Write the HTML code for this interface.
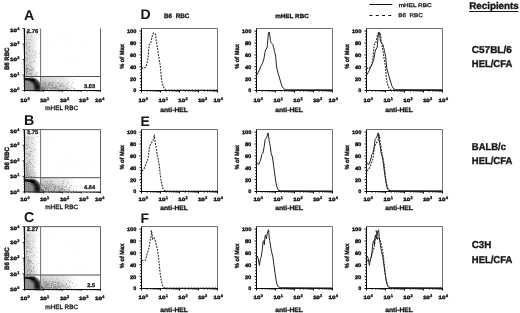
<!DOCTYPE html>
<html><head><meta charset="utf-8"><style>
html,body{margin:0;padding:0;background:#fff;width:520px;height:313px;overflow:hidden;}
svg{display:block;}
text{font-family:"Liberation Sans",sans-serif;text-rendering:geometricPrecision;}
</style></head><body>
<svg width="520" height="313" viewBox="0 0 520 313">
<defs><filter id="b1" x="-30%" y="-30%" width="160%" height="160%"><feGaussianBlur stdDeviation="0.7"/></filter><filter id="b3" x="-30%" y="-30%" width="160%" height="160%"><feGaussianBlur stdDeviation="0.9"/></filter><filter id="soft" x="0" y="0" width="100%" height="100%"><feGaussianBlur stdDeviation="0.3"/></filter><filter id="b2" x="-30%" y="-30%" width="160%" height="160%"><feGaussianBlur stdDeviation="1.6"/></filter><linearGradient id="gUL" x1="0" y1="0" x2="1" y2="0"><stop offset="0" stop-color="#000" stop-opacity="0.2"/><stop offset="0.5" stop-color="#000" stop-opacity="0.1"/><stop offset="0.85" stop-color="#000" stop-opacity="0.0"/></linearGradient><linearGradient id="gLR" x1="0" y1="0" x2="1" y2="0"><stop offset="0" stop-color="#000" stop-opacity="0.17"/><stop offset="0.4" stop-color="#000" stop-opacity="0.09"/><stop offset="0.58" stop-color="#000" stop-opacity="0.0"/></linearGradient></defs>
<rect width="520" height="313" fill="#fff"/>
<g filter="url(#soft)">
<text x="24.1" y="19.5" font-size="14.2" font-weight="bold" text-anchor="start" fill="#151515" >A</text>
<rect x="24.5" y="28.5" width="16.1" height="48.0" fill="url(#gUL)"/>
<path d="M24.5,76.5 L24.5,62.5 Q30,66.5 36,73.5 L39,76.5 Z" fill="#000" fill-opacity="0.10" filter="url(#b2)"/>
<rect x="40.6" y="76.5" width="59.9" height="14.0" fill="url(#gLR)"/>
<path d="M40.6,90.5 L40.6,79.5 Q50,80.5 62,84.5 L74,90.5 Z" fill="#000" fill-opacity="0.10" filter="url(#b2)"/>
<path d="M24.5,77.5 L33,77.5 Q38,78.5 40.5,83.5 L40.5,90.5 L24.5,90.5 Z" fill="#000" fill-opacity="0.45" filter="url(#b1)"/>
<path d="M24.5,79.1 L30,79.5 Q33,79.8 35,80.7" fill="none" stroke="#151515" stroke-width="2.5" filter="url(#b1)"/>
<path d="M30,78.5 L34,78.9 Q38.6,81.5 40.2,86.5 L40.4,90.5 L34.6,90.5 L34.2,85.0 Q33,82.3 30,81.3 Z" fill="#000" fill-opacity="0.85" filter="url(#b3)"/>
<path d="M24.5,89.3 L40,89.3" stroke="#000" stroke-opacity="0.2" stroke-width="2" filter="url(#b1)"/>
<path d="M40.5,87.0 L45,89.5 L40.5,90.0 Z" fill="#000" fill-opacity="0.35" filter="url(#b1)"/>
<line x1="100.5" y1="28.5" x2="100.5" y2="90.5" stroke="#666" stroke-width="1" />
<line x1="24.5" y1="28.5" x2="24.5" y2="90.5" stroke="#111" stroke-width="1" />
<line x1="24.0" y1="90.5" x2="101.0" y2="90.5" stroke="#111" stroke-width="1" />
<path d="M22.5 90.5H24.5M24.5 90.5v1.4M30.2 90.5v0.9M23.6 85.8H24.5M33.6 90.5v0.9M23.6 83.1H24.5M35.9 90.5v0.9M23.6 81.2H24.5M37.8 90.5v0.9M23.6 79.7H24.5M39.3 90.5v0.9M23.6 78.4H24.5M40.6 90.5v0.9M23.6 77.4H24.5M41.7 90.5v0.9M23.6 76.5H24.5M42.6 90.5v0.9M23.6 75.7H24.5M22.5 75.0H24.5M43.5 90.5v1.4M49.2 90.5v0.9M23.6 70.3H24.5M52.6 90.5v0.9M23.6 67.6H24.5M54.9 90.5v0.9M23.6 65.7H24.5M56.8 90.5v0.9M23.6 64.2H24.5M58.3 90.5v0.9M23.6 62.9H24.5M59.6 90.5v0.9M23.6 61.9H24.5M60.7 90.5v0.9M23.6 61.0H24.5M61.6 90.5v0.9M23.6 60.2H24.5M22.5 59.5H24.5M62.5 90.5v1.4M68.2 90.5v0.9M23.6 54.8H24.5M71.6 90.5v0.9M23.6 52.1H24.5M73.9 90.5v0.9M23.6 50.2H24.5M75.8 90.5v0.9M23.6 48.7H24.5M77.3 90.5v0.9M23.6 47.4H24.5M78.6 90.5v0.9M23.6 46.4H24.5M79.7 90.5v0.9M23.6 45.5H24.5M80.6 90.5v0.9M23.6 44.7H24.5M22.5 44.0H24.5M81.5 90.5v1.4M87.2 90.5v0.9M23.6 39.3H24.5M90.6 90.5v0.9M23.6 36.6H24.5M92.9 90.5v0.9M23.6 34.7H24.5M94.8 90.5v0.9M23.6 33.2H24.5M96.3 90.5v0.9M23.6 31.9H24.5M97.6 90.5v0.9M23.6 30.9H24.5M98.7 90.5v0.9M23.6 30.0H24.5M99.6 90.5v0.9M23.6 29.2H24.5M22.5 28.5H24.5M100.5 90.5v1.4" stroke="#111" stroke-width="0.8" fill="none"/>
<line x1="40.6" y1="28.5" x2="40.6" y2="90.5" stroke="#707070" stroke-width="1" />
<line x1="24.5" y1="76.5" x2="100.5" y2="76.5" stroke="#505050" stroke-width="1" />
<rect x="25.5" y="29.0" width="14" height="5.5" fill="#fff" fill-opacity="0.85"/>
<text x="26.8" y="33.3" font-size="5.6" font-weight="bold" text-anchor="start" textLength="11.4" lengthAdjust="spacingAndGlyphs" fill="#151515" stroke="#151515" stroke-width="0.3" >2.76</text>
<text x="95.0" y="87.5" font-size="5.6" font-weight="bold" text-anchor="end" fill="#151515" stroke="#151515" stroke-width="0.3" >3.03</text>
<text x="10.0" y="92.3" font-size="4.7" font-weight="bold" textLength="6.9" lengthAdjust="spacingAndGlyphs" fill="#151515" stroke="#151515" stroke-width="0.4">10</text>
<text x="17.2" y="90.3" font-size="3.9" font-weight="bold" fill="#151515" stroke="#151515" stroke-width="0.3">0</text>
<text x="20.2" y="102.2" font-size="4.7" font-weight="bold" textLength="6.9" lengthAdjust="spacingAndGlyphs" fill="#151515" stroke="#151515" stroke-width="0.4">10</text>
<text x="27.4" y="100.2" font-size="3.9" font-weight="bold" fill="#151515" stroke="#151515" stroke-width="0.3">0</text>
<text x="10.0" y="76.8" font-size="4.7" font-weight="bold" textLength="6.9" lengthAdjust="spacingAndGlyphs" fill="#151515" stroke="#151515" stroke-width="0.4">10</text>
<text x="17.2" y="74.8" font-size="3.9" font-weight="bold" fill="#151515" stroke="#151515" stroke-width="0.3">1</text>
<text x="39.9" y="102.2" font-size="4.7" font-weight="bold" textLength="6.9" lengthAdjust="spacingAndGlyphs" fill="#151515" stroke="#151515" stroke-width="0.4">10</text>
<text x="47.1" y="100.2" font-size="3.9" font-weight="bold" fill="#151515" stroke="#151515" stroke-width="0.3">1</text>
<text x="10.0" y="61.3" font-size="4.7" font-weight="bold" textLength="6.9" lengthAdjust="spacingAndGlyphs" fill="#151515" stroke="#151515" stroke-width="0.4">10</text>
<text x="17.2" y="59.3" font-size="3.9" font-weight="bold" fill="#151515" stroke="#151515" stroke-width="0.3">2</text>
<text x="59.9" y="102.2" font-size="4.7" font-weight="bold" textLength="6.9" lengthAdjust="spacingAndGlyphs" fill="#151515" stroke="#151515" stroke-width="0.4">10</text>
<text x="67.1" y="100.2" font-size="3.9" font-weight="bold" fill="#151515" stroke="#151515" stroke-width="0.3">2</text>
<text x="10.0" y="45.8" font-size="4.7" font-weight="bold" textLength="6.9" lengthAdjust="spacingAndGlyphs" fill="#151515" stroke="#151515" stroke-width="0.4">10</text>
<text x="17.2" y="43.8" font-size="3.9" font-weight="bold" fill="#151515" stroke="#151515" stroke-width="0.3">3</text>
<text x="79.1" y="102.2" font-size="4.7" font-weight="bold" textLength="6.9" lengthAdjust="spacingAndGlyphs" fill="#151515" stroke="#151515" stroke-width="0.4">10</text>
<text x="86.3" y="100.2" font-size="3.9" font-weight="bold" fill="#151515" stroke="#151515" stroke-width="0.3">3</text>
<text x="10.0" y="31.7" font-size="4.7" font-weight="bold" textLength="6.9" lengthAdjust="spacingAndGlyphs" fill="#151515" stroke="#151515" stroke-width="0.4">10</text>
<text x="17.2" y="29.7" font-size="3.9" font-weight="bold" fill="#151515" stroke="#151515" stroke-width="0.3">4</text>
<text x="95.0" y="102.2" font-size="4.7" font-weight="bold" textLength="6.9" lengthAdjust="spacingAndGlyphs" fill="#151515" stroke="#151515" stroke-width="0.4">10</text>
<text x="102.2" y="100.2" font-size="3.9" font-weight="bold" fill="#151515" stroke="#151515" stroke-width="0.3">4</text>
<text x="61.7" y="110.1" font-size="6.2" text-anchor="middle" textLength="32.8" lengthAdjust="spacingAndGlyphs" fill="#151515" stroke="#151515" stroke-width="0.3" >mHEL RBC</text>
<text x="0" y="0" font-size="6.4" font-weight="bold" text-anchor="middle" textLength="22.6" lengthAdjust="spacingAndGlyphs" fill="#151515" stroke="#151515" stroke-width="0.4" transform="translate(9.0,58.8) rotate(-90)">B6 RBC</text>
<text x="24.1" y="125.3" font-size="14.2" font-weight="bold" text-anchor="start" fill="#151515" >B</text>
<rect x="24.5" y="129.6" width="16.1" height="48.099999999999994" fill="url(#gUL)"/>
<path d="M24.5,177.7 L24.5,163.7 Q30,167.7 36,174.7 L39,177.7 Z" fill="#000" fill-opacity="0.10" filter="url(#b2)"/>
<rect x="40.6" y="177.7" width="59.9" height="14.300000000000011" fill="url(#gLR)"/>
<path d="M40.6,192.0 L40.6,180.7 Q50,181.7 62,185.7 L74,192.0 Z" fill="#000" fill-opacity="0.10" filter="url(#b2)"/>
<path d="M24.5,178.7 L33,178.7 Q38,179.7 40.5,184.7 L40.5,192.0 L24.5,192.0 Z" fill="#000" fill-opacity="0.45" filter="url(#b1)"/>
<path d="M24.5,180.29999999999998 L30,180.7 Q33,181.0 35,181.89999999999998" fill="none" stroke="#151515" stroke-width="2.5" filter="url(#b1)"/>
<path d="M30,179.7 L34,180.1 Q38.6,182.7 40.2,187.7 L40.4,192.0 L34.6,192.0 L34.2,186.2 Q33,183.5 30,182.5 Z" fill="#000" fill-opacity="0.85" filter="url(#b3)"/>
<path d="M24.5,190.8 L40,190.8" stroke="#000" stroke-opacity="0.2" stroke-width="2" filter="url(#b1)"/>
<path d="M40.5,188.5 L45,191.0 L40.5,191.5 Z" fill="#000" fill-opacity="0.35" filter="url(#b1)"/>
<line x1="24.5" y1="129.6" x2="100.5" y2="129.6" stroke="#666" stroke-width="1" />
<line x1="100.5" y1="129.6" x2="100.5" y2="192.0" stroke="#666" stroke-width="1" />
<line x1="24.5" y1="129.6" x2="24.5" y2="192.0" stroke="#111" stroke-width="1" />
<line x1="24.0" y1="192.0" x2="101.0" y2="192.0" stroke="#111" stroke-width="1" />
<path d="M22.5 192.0H24.5M24.5 192.0v1.4M30.2 192.0v0.9M23.6 187.3H24.5M33.6 192.0v0.9M23.6 184.6H24.5M35.9 192.0v0.9M23.6 182.6H24.5M37.8 192.0v0.9M23.6 181.1H24.5M39.3 192.0v0.9M23.6 179.9H24.5M40.6 192.0v0.9M23.6 178.8H24.5M41.7 192.0v0.9M23.6 177.9H24.5M42.6 192.0v0.9M23.6 177.1H24.5M22.5 176.4H24.5M43.5 192.0v1.4M49.2 192.0v0.9M23.6 171.7H24.5M52.6 192.0v0.9M23.6 169.0H24.5M54.9 192.0v0.9M23.6 167.0H24.5M56.8 192.0v0.9M23.6 165.5H24.5M58.3 192.0v0.9M23.6 164.3H24.5M59.6 192.0v0.9M23.6 163.2H24.5M60.7 192.0v0.9M23.6 162.3H24.5M61.6 192.0v0.9M23.6 161.5H24.5M22.5 160.8H24.5M62.5 192.0v1.4M68.2 192.0v0.9M23.6 156.1H24.5M71.6 192.0v0.9M23.6 153.4H24.5M73.9 192.0v0.9M23.6 151.4H24.5M75.8 192.0v0.9M23.6 149.9H24.5M77.3 192.0v0.9M23.6 148.7H24.5M78.6 192.0v0.9M23.6 147.6H24.5M79.7 192.0v0.9M23.6 146.7H24.5M80.6 192.0v0.9M23.6 145.9H24.5M22.5 145.2H24.5M81.5 192.0v1.4M87.2 192.0v0.9M23.6 140.5H24.5M90.6 192.0v0.9M23.6 137.8H24.5M92.9 192.0v0.9M23.6 135.8H24.5M94.8 192.0v0.9M23.6 134.3H24.5M96.3 192.0v0.9M23.6 133.1H24.5M97.6 192.0v0.9M23.6 132.0H24.5M98.7 192.0v0.9M23.6 131.1H24.5M99.6 192.0v0.9M23.6 130.3H24.5M22.5 129.6H24.5M100.5 192.0v1.4" stroke="#111" stroke-width="0.8" fill="none"/>
<line x1="40.6" y1="129.6" x2="40.6" y2="192.0" stroke="#707070" stroke-width="1" />
<line x1="24.5" y1="177.7" x2="100.5" y2="177.7" stroke="#505050" stroke-width="1" />
<rect x="25.5" y="130.1" width="14" height="5.5" fill="#fff" fill-opacity="0.85"/>
<text x="26.8" y="134.4" font-size="5.6" font-weight="bold" text-anchor="start" textLength="11.4" lengthAdjust="spacingAndGlyphs" fill="#151515" stroke="#151515" stroke-width="0.3" >3.75</text>
<text x="95.0" y="189.0" font-size="5.6" font-weight="bold" text-anchor="end" fill="#151515" stroke="#151515" stroke-width="0.3" >4.64</text>
<text x="10.0" y="193.8" font-size="4.7" font-weight="bold" textLength="6.9" lengthAdjust="spacingAndGlyphs" fill="#151515" stroke="#151515" stroke-width="0.4">10</text>
<text x="17.2" y="191.8" font-size="3.9" font-weight="bold" fill="#151515" stroke="#151515" stroke-width="0.3">0</text>
<text x="20.2" y="200.7" font-size="4.7" font-weight="bold" textLength="6.9" lengthAdjust="spacingAndGlyphs" fill="#151515" stroke="#151515" stroke-width="0.4">10</text>
<text x="27.4" y="198.7" font-size="3.9" font-weight="bold" fill="#151515" stroke="#151515" stroke-width="0.3">0</text>
<text x="10.0" y="178.2" font-size="4.7" font-weight="bold" textLength="6.9" lengthAdjust="spacingAndGlyphs" fill="#151515" stroke="#151515" stroke-width="0.4">10</text>
<text x="17.2" y="176.2" font-size="3.9" font-weight="bold" fill="#151515" stroke="#151515" stroke-width="0.3">1</text>
<text x="39.9" y="200.7" font-size="4.7" font-weight="bold" textLength="6.9" lengthAdjust="spacingAndGlyphs" fill="#151515" stroke="#151515" stroke-width="0.4">10</text>
<text x="47.1" y="198.7" font-size="3.9" font-weight="bold" fill="#151515" stroke="#151515" stroke-width="0.3">1</text>
<text x="10.0" y="162.6" font-size="4.7" font-weight="bold" textLength="6.9" lengthAdjust="spacingAndGlyphs" fill="#151515" stroke="#151515" stroke-width="0.4">10</text>
<text x="17.2" y="160.6" font-size="3.9" font-weight="bold" fill="#151515" stroke="#151515" stroke-width="0.3">2</text>
<text x="59.9" y="200.7" font-size="4.7" font-weight="bold" textLength="6.9" lengthAdjust="spacingAndGlyphs" fill="#151515" stroke="#151515" stroke-width="0.4">10</text>
<text x="67.1" y="198.7" font-size="3.9" font-weight="bold" fill="#151515" stroke="#151515" stroke-width="0.3">2</text>
<text x="10.0" y="147.0" font-size="4.7" font-weight="bold" textLength="6.9" lengthAdjust="spacingAndGlyphs" fill="#151515" stroke="#151515" stroke-width="0.4">10</text>
<text x="17.2" y="145.0" font-size="3.9" font-weight="bold" fill="#151515" stroke="#151515" stroke-width="0.3">3</text>
<text x="79.1" y="200.7" font-size="4.7" font-weight="bold" textLength="6.9" lengthAdjust="spacingAndGlyphs" fill="#151515" stroke="#151515" stroke-width="0.4">10</text>
<text x="86.3" y="198.7" font-size="3.9" font-weight="bold" fill="#151515" stroke="#151515" stroke-width="0.3">3</text>
<text x="10.0" y="132.8" font-size="4.7" font-weight="bold" textLength="6.9" lengthAdjust="spacingAndGlyphs" fill="#151515" stroke="#151515" stroke-width="0.4">10</text>
<text x="17.2" y="130.8" font-size="3.9" font-weight="bold" fill="#151515" stroke="#151515" stroke-width="0.3">4</text>
<text x="95.0" y="200.7" font-size="4.7" font-weight="bold" textLength="6.9" lengthAdjust="spacingAndGlyphs" fill="#151515" stroke="#151515" stroke-width="0.4">10</text>
<text x="102.2" y="198.7" font-size="3.9" font-weight="bold" fill="#151515" stroke="#151515" stroke-width="0.3">4</text>
<text x="61.7" y="208.8" font-size="6.2" text-anchor="middle" textLength="32.8" lengthAdjust="spacingAndGlyphs" fill="#151515" stroke="#151515" stroke-width="0.3" >mHEL RBC</text>
<text x="0" y="0" font-size="6.4" font-weight="bold" text-anchor="middle" textLength="22.6" lengthAdjust="spacingAndGlyphs" fill="#151515" stroke="#151515" stroke-width="0.4" transform="translate(9.0,158.5) rotate(-90)">B6 RBC</text>
<text x="24.1" y="222.4" font-size="14.2" font-weight="bold" text-anchor="start" fill="#151515" >C</text>
<rect x="24.5" y="226.6" width="16.1" height="48.400000000000006" fill="url(#gUL)"/>
<path d="M24.5,275.0 L24.5,261.0 Q30,265.0 36,272.0 L39,275.0 Z" fill="#000" fill-opacity="0.10" filter="url(#b2)"/>
<rect x="40.6" y="275.0" width="59.9" height="14.5" fill="url(#gLR)"/>
<path d="M40.6,289.5 L40.6,278.0 Q50,279.0 62,283.0 L74,289.5 Z" fill="#000" fill-opacity="0.10" filter="url(#b2)"/>
<path d="M24.5,276.0 L33,276.0 Q38,277.0 40.5,282.0 L40.5,289.5 L24.5,289.5 Z" fill="#000" fill-opacity="0.45" filter="url(#b1)"/>
<path d="M24.5,277.6 L30,278.0 Q33,278.3 35,279.2" fill="none" stroke="#151515" stroke-width="2.5" filter="url(#b1)"/>
<path d="M30,277.0 L34,277.4 Q38.6,280.0 40.2,285.0 L40.4,289.5 L34.6,289.5 L34.2,283.5 Q33,280.8 30,279.8 Z" fill="#000" fill-opacity="0.85" filter="url(#b3)"/>
<path d="M24.5,288.3 L40,288.3" stroke="#000" stroke-opacity="0.2" stroke-width="2" filter="url(#b1)"/>
<path d="M40.5,286.0 L45,288.5 L40.5,289.0 Z" fill="#000" fill-opacity="0.35" filter="url(#b1)"/>
<line x1="24.5" y1="226.6" x2="100.5" y2="226.6" stroke="#666" stroke-width="1" />
<line x1="100.5" y1="226.6" x2="100.5" y2="289.5" stroke="#666" stroke-width="1" />
<line x1="24.5" y1="226.6" x2="24.5" y2="289.5" stroke="#111" stroke-width="1" />
<line x1="24.0" y1="289.5" x2="101.0" y2="289.5" stroke="#111" stroke-width="1" />
<path d="M22.5 289.5H24.5M24.5 289.5v1.4M30.2 289.5v0.9M23.6 284.8H24.5M33.6 289.5v0.9M23.6 282.0H24.5M35.9 289.5v0.9M23.6 280.0H24.5M37.8 289.5v0.9M23.6 278.5H24.5M39.3 289.5v0.9M23.6 277.3H24.5M40.6 289.5v0.9M23.6 276.2H24.5M41.7 289.5v0.9M23.6 275.3H24.5M42.6 289.5v0.9M23.6 274.5H24.5M22.5 273.8H24.5M43.5 289.5v1.4M49.2 289.5v0.9M23.6 269.0H24.5M52.6 289.5v0.9M23.6 266.3H24.5M54.9 289.5v0.9M23.6 264.3H24.5M56.8 289.5v0.9M23.6 262.8H24.5M58.3 289.5v0.9M23.6 261.5H24.5M59.6 289.5v0.9M23.6 260.5H24.5M60.7 289.5v0.9M23.6 259.6H24.5M61.6 289.5v0.9M23.6 258.8H24.5M22.5 258.1H24.5M62.5 289.5v1.4M68.2 289.5v0.9M23.6 253.3H24.5M71.6 289.5v0.9M23.6 250.5H24.5M73.9 289.5v0.9M23.6 248.6H24.5M75.8 289.5v0.9M23.6 247.1H24.5M77.3 289.5v0.9M23.6 245.8H24.5M78.6 289.5v0.9M23.6 244.8H24.5M79.7 289.5v0.9M23.6 243.8H24.5M80.6 289.5v0.9M23.6 243.0H24.5M22.5 242.3H24.5M81.5 289.5v1.4M87.2 289.5v0.9M23.6 237.6H24.5M90.6 289.5v0.9M23.6 234.8H24.5M92.9 289.5v0.9M23.6 232.9H24.5M94.8 289.5v0.9M23.6 231.3H24.5M96.3 289.5v0.9M23.6 230.1H24.5M97.6 289.5v0.9M23.6 229.0H24.5M98.7 289.5v0.9M23.6 228.1H24.5M99.6 289.5v0.9M23.6 227.3H24.5M22.5 226.6H24.5M100.5 289.5v1.4" stroke="#111" stroke-width="0.8" fill="none"/>
<line x1="40.6" y1="226.6" x2="40.6" y2="289.5" stroke="#707070" stroke-width="1" />
<line x1="24.5" y1="275.0" x2="100.5" y2="275.0" stroke="#505050" stroke-width="1" />
<rect x="25.5" y="227.1" width="14" height="5.5" fill="#fff" fill-opacity="0.85"/>
<text x="26.8" y="231.4" font-size="5.6" font-weight="bold" text-anchor="start" textLength="11.4" lengthAdjust="spacingAndGlyphs" fill="#151515" stroke="#151515" stroke-width="0.3" >2.27</text>
<text x="95.0" y="286.5" font-size="5.6" font-weight="bold" text-anchor="end" fill="#151515" stroke="#151515" stroke-width="0.3" >2.5</text>
<text x="10.0" y="291.3" font-size="4.7" font-weight="bold" textLength="6.9" lengthAdjust="spacingAndGlyphs" fill="#151515" stroke="#151515" stroke-width="0.4">10</text>
<text x="17.2" y="289.3" font-size="3.9" font-weight="bold" fill="#151515" stroke="#151515" stroke-width="0.3">0</text>
<text x="20.2" y="299.5" font-size="4.7" font-weight="bold" textLength="6.9" lengthAdjust="spacingAndGlyphs" fill="#151515" stroke="#151515" stroke-width="0.4">10</text>
<text x="27.4" y="297.5" font-size="3.9" font-weight="bold" fill="#151515" stroke="#151515" stroke-width="0.3">0</text>
<text x="10.0" y="275.6" font-size="4.7" font-weight="bold" textLength="6.9" lengthAdjust="spacingAndGlyphs" fill="#151515" stroke="#151515" stroke-width="0.4">10</text>
<text x="17.2" y="273.6" font-size="3.9" font-weight="bold" fill="#151515" stroke="#151515" stroke-width="0.3">1</text>
<text x="39.9" y="299.5" font-size="4.7" font-weight="bold" textLength="6.9" lengthAdjust="spacingAndGlyphs" fill="#151515" stroke="#151515" stroke-width="0.4">10</text>
<text x="47.1" y="297.5" font-size="3.9" font-weight="bold" fill="#151515" stroke="#151515" stroke-width="0.3">1</text>
<text x="10.0" y="259.9" font-size="4.7" font-weight="bold" textLength="6.9" lengthAdjust="spacingAndGlyphs" fill="#151515" stroke="#151515" stroke-width="0.4">10</text>
<text x="17.2" y="257.9" font-size="3.9" font-weight="bold" fill="#151515" stroke="#151515" stroke-width="0.3">2</text>
<text x="59.9" y="299.5" font-size="4.7" font-weight="bold" textLength="6.9" lengthAdjust="spacingAndGlyphs" fill="#151515" stroke="#151515" stroke-width="0.4">10</text>
<text x="67.1" y="297.5" font-size="3.9" font-weight="bold" fill="#151515" stroke="#151515" stroke-width="0.3">2</text>
<text x="10.0" y="244.1" font-size="4.7" font-weight="bold" textLength="6.9" lengthAdjust="spacingAndGlyphs" fill="#151515" stroke="#151515" stroke-width="0.4">10</text>
<text x="17.2" y="242.1" font-size="3.9" font-weight="bold" fill="#151515" stroke="#151515" stroke-width="0.3">3</text>
<text x="79.1" y="299.5" font-size="4.7" font-weight="bold" textLength="6.9" lengthAdjust="spacingAndGlyphs" fill="#151515" stroke="#151515" stroke-width="0.4">10</text>
<text x="86.3" y="297.5" font-size="3.9" font-weight="bold" fill="#151515" stroke="#151515" stroke-width="0.3">3</text>
<text x="10.0" y="229.8" font-size="4.7" font-weight="bold" textLength="6.9" lengthAdjust="spacingAndGlyphs" fill="#151515" stroke="#151515" stroke-width="0.4">10</text>
<text x="17.2" y="227.8" font-size="3.9" font-weight="bold" fill="#151515" stroke="#151515" stroke-width="0.3">4</text>
<text x="95.0" y="299.5" font-size="4.7" font-weight="bold" textLength="6.9" lengthAdjust="spacingAndGlyphs" fill="#151515" stroke="#151515" stroke-width="0.4">10</text>
<text x="102.2" y="297.5" font-size="3.9" font-weight="bold" fill="#151515" stroke="#151515" stroke-width="0.3">4</text>
<text x="61.7" y="308.8" font-size="6.2" text-anchor="middle" textLength="32.8" lengthAdjust="spacingAndGlyphs" fill="#151515" stroke="#151515" stroke-width="0.3" >mHEL RBC</text>
<text x="0" y="0" font-size="6.4" font-weight="bold" text-anchor="middle" textLength="22.6" lengthAdjust="spacingAndGlyphs" fill="#151515" stroke="#151515" stroke-width="0.4" transform="translate(9.0,258.7) rotate(-90)">B6 RBC</text>
<path d="M27 58h1v1h-1zM27 47h1v1h-1zM32 48h1v1h-1zM27 47h1v1h-1zM28 68h1v1h-1zM29 56h1v1h-1zM29 65h1v1h-1zM32 55h1v1h-1zM29 62h1v1h-1zM25 69h1v1h-1zM31 34h1v1h-1zM36 72h1v1h-1zM31 56h1v1h-1zM25 59h1v1h-1zM35 76h1v1h-1zM33 46h1v1h-1zM31 75h1v1h-1zM26 69h1v1h-1zM29 57h1v1h-1zM27 71h1v1h-1zM25 36h1v1h-1zM30 60h1v1h-1zM33 66h1v1h-1zM31 52h1v1h-1zM27 70h1v1h-1zM26 54h1v1h-1zM26 44h1v1h-1zM31 40h1v1h-1zM26 65h1v1h-1zM31 36h1v1h-1zM29 42h1v1h-1zM26 74h1v1h-1zM31 59h1v1h-1zM31 65h1v1h-1zM26 57h1v1h-1zM26 68h1v1h-1zM27 48h1v1h-1zM28 69h1v1h-1zM26 57h1v1h-1zM29 65h1v1h-1zM30 58h1v1h-1zM25 31h1v1h-1zM26 57h1v1h-1zM25 53h1v1h-1zM29 47h1v1h-1zM32 70h1v1h-1zM27 67h1v1h-1zM27 60h1v1h-1zM27 30h1v1h-1zM27 74h1v1h-1zM27 52h1v1h-1zM26 43h1v1h-1zM28 51h1v1h-1zM26 76h1v1h-1zM35 54h1v1h-1zM29 70h1v1h-1zM27 31h1v1h-1zM26 75h1v1h-1zM26 48h1v1h-1zM29 69h1v1h-1zM29 69h1v1h-1zM27 68h1v1h-1zM27 67h1v1h-1zM36 53h1v1h-1zM30 70h1v1h-1zM33 70h1v1h-1zM25 57h1v1h-1zM26 72h1v1h-1zM26 58h1v1h-1zM29 49h1v1h-1zM35 51h1v1h-1zM25 68h1v1h-1zM31 33h1v1h-1zM30 61h1v1h-1zM29 58h1v1h-1zM27 44h1v1h-1zM31 69h1v1h-1zM26 33h1v1h-1zM27 61h1v1h-1zM27 51h1v1h-1zM31 74h1v1h-1zM32 62h1v1h-1zM34 53h1v1h-1zM33 50h1v1h-1zM56 88h1v1h-1zM43 85h1v1h-1zM43 82h1v1h-1zM46 87h1v1h-1zM55 85h1v1h-1zM61 82h1v1h-1zM63 89h1v1h-1zM63 84h1v1h-1zM61 84h1v1h-1zM47 89h1v1h-1zM44 86h1v1h-1zM46 88h1v1h-1zM43 85h1v1h-1zM63 88h1v1h-1zM55 88h1v1h-1zM67 86h1v1h-1zM48 86h1v1h-1zM50 87h1v1h-1zM67 86h1v1h-1zM50 87h1v1h-1zM52 86h1v1h-1zM44 82h1v1h-1zM66 88h1v1h-1zM65 88h1v1h-1zM52 84h1v1h-1zM47 85h1v1h-1zM65 86h1v1h-1zM48 88h1v1h-1zM52 88h1v1h-1zM57 88h1v1h-1zM55 84h1v1h-1zM59 83h1v1h-1zM72 82h1v1h-1zM66 88h1v1h-1zM56 87h1v1h-1zM53 88h1v1h-1zM58 83h1v1h-1zM64 86h1v1h-1zM71 85h1v1h-1zM51 88h1v1h-1zM54 87h1v1h-1zM52 89h1v1h-1zM42 88h1v1h-1zM48 88h1v1h-1zM42 87h1v1h-1zM46 89h1v1h-1zM71 89h1v1h-1zM51 89h1v1h-1zM65 89h1v1h-1zM57 84h1v1h-1zM53 84h1v1h-1zM57 88h1v1h-1zM60 83h1v1h-1zM42 84h1v1h-1zM42 86h1v1h-1zM48 88h1v1h-1zM56 85h1v1h-1zM47 88h1v1h-1zM52 85h1v1h-1zM63 79h1v1h-1zM63 82h1v1h-1zM55 87h1v1h-1zM61 85h1v1h-1zM46 87h1v1h-1zM46 89h1v1h-1zM59 87h1v1h-1zM43 89h1v1h-1zM46 88h1v1h-1zM46 87h1v1h-1zM74 89h1v1h-1zM56 87h1v1h-1zM60 85h1v1h-1zM63 85h1v1h-1zM56 87h1v1h-1zM58 89h1v1h-1zM78 89h1v1h-1zM45 85h1v1h-1zM68 88h1v1h-1zM52 89h1v1h-1zM63 83h1v1h-1zM53 84h1v1h-1zM43 84h1v1h-1zM41 86h1v1h-1zM54 88h1v1h-1zM67 88h1v1h-1zM59 85h1v1h-1zM59 87h1v1h-1zM70 89h1v1h-1zM43 86h1v1h-1zM52 88h1v1h-1zM47 87h1v1h-1zM47 88h1v1h-1zM64 88h1v1h-1zM42 85h1v1h-1zM45 83h1v1h-1zM41 86h1v1h-1zM54 81h1v1h-1zM75 89h1v1h-1zM49 85h1v1h-1zM60 89h1v1h-1zM64 85h1v1h-1zM53 88h1v1h-1zM42 86h1v1h-1zM70 85h1v1h-1zM44 89h1v1h-1zM58 86h1v1h-1zM43 84h1v1h-1zM49 83h1v1h-1zM60 84h1v1h-1zM52 86h1v1h-1zM58 89h1v1h-1zM47 89h1v1h-1zM52 83h1v1h-1zM43 87h1v1h-1zM47 89h1v1h-1zM51 86h1v1h-1zM57 88h1v1h-1zM43 84h1v1h-1zM57 88h1v1h-1zM62 84h1v1h-1zM52 88h1v1h-1zM46 85h1v1h-1zM62 89h1v1h-1zM43 85h1v1h-1zM45 82h1v1h-1zM44 82h1v1h-1zM54 83h1v1h-1zM50 89h1v1h-1zM58 88h1v1h-1zM65 84h1v1h-1zM53 87h1v1h-1zM44 88h1v1h-1zM55 88h1v1h-1zM72 87h1v1h-1zM33 170h1v1h-1zM33 177h1v1h-1zM29 173h1v1h-1zM25 170h1v1h-1zM25 154h1v1h-1zM25 177h1v1h-1zM27 142h1v1h-1zM30 170h1v1h-1zM31 138h1v1h-1zM30 172h1v1h-1zM28 161h1v1h-1zM27 170h1v1h-1zM31 142h1v1h-1zM31 163h1v1h-1zM28 176h1v1h-1zM27 164h1v1h-1zM27 162h1v1h-1zM30 172h1v1h-1zM26 162h1v1h-1zM31 154h1v1h-1zM30 160h1v1h-1zM29 161h1v1h-1zM25 153h1v1h-1zM29 154h1v1h-1zM25 135h1v1h-1zM26 163h1v1h-1zM32 169h1v1h-1zM29 160h1v1h-1zM26 172h1v1h-1zM31 177h1v1h-1zM27 162h1v1h-1zM35 162h1v1h-1zM26 177h1v1h-1zM28 170h1v1h-1zM27 171h1v1h-1zM32 172h1v1h-1zM28 177h1v1h-1zM34 135h1v1h-1zM33 161h1v1h-1zM29 153h1v1h-1zM30 156h1v1h-1zM27 148h1v1h-1zM29 174h1v1h-1zM31 176h1v1h-1zM29 160h1v1h-1zM27 168h1v1h-1zM28 175h1v1h-1zM26 175h1v1h-1zM34 145h1v1h-1zM33 167h1v1h-1zM25 174h1v1h-1zM27 145h1v1h-1zM28 144h1v1h-1zM33 151h1v1h-1zM28 131h1v1h-1zM26 145h1v1h-1zM26 158h1v1h-1zM28 163h1v1h-1zM32 156h1v1h-1zM34 156h1v1h-1zM25 137h1v1h-1zM25 159h1v1h-1zM29 162h1v1h-1zM27 153h1v1h-1zM26 167h1v1h-1zM25 176h1v1h-1zM30 151h1v1h-1zM27 174h1v1h-1zM29 172h1v1h-1zM30 162h1v1h-1zM34 173h1v1h-1zM28 154h1v1h-1zM28 170h1v1h-1zM28 146h1v1h-1zM30 153h1v1h-1zM28 170h1v1h-1zM27 166h1v1h-1zM28 140h1v1h-1zM43 187h1v1h-1zM63 191h1v1h-1zM47 188h1v1h-1zM50 188h1v1h-1zM46 184h1v1h-1zM48 188h1v1h-1zM47 185h1v1h-1zM43 190h1v1h-1zM62 188h1v1h-1zM44 189h1v1h-1zM47 186h1v1h-1zM51 186h1v1h-1zM46 187h1v1h-1zM45 189h1v1h-1zM59 191h1v1h-1zM43 187h1v1h-1zM46 187h1v1h-1zM51 187h1v1h-1zM46 190h1v1h-1zM47 190h1v1h-1zM44 189h1v1h-1zM61 186h1v1h-1zM53 188h1v1h-1zM51 181h1v1h-1zM48 189h1v1h-1zM57 187h1v1h-1zM56 190h1v1h-1zM46 190h1v1h-1zM74 186h1v1h-1zM41 191h1v1h-1zM45 190h1v1h-1zM52 187h1v1h-1zM65 190h1v1h-1zM63 188h1v1h-1zM70 187h1v1h-1zM57 188h1v1h-1zM42 190h1v1h-1zM44 187h1v1h-1zM47 183h1v1h-1zM59 189h1v1h-1zM44 190h1v1h-1zM42 190h1v1h-1zM54 189h1v1h-1zM46 189h1v1h-1zM59 189h1v1h-1zM46 187h1v1h-1zM43 187h1v1h-1zM51 189h1v1h-1zM64 186h1v1h-1zM52 184h1v1h-1zM43 187h1v1h-1zM66 184h1v1h-1zM54 190h1v1h-1zM43 188h1v1h-1zM52 187h1v1h-1zM42 185h1v1h-1zM65 186h1v1h-1zM52 183h1v1h-1zM46 190h1v1h-1zM42 189h1v1h-1zM45 188h1v1h-1zM73 187h1v1h-1zM47 187h1v1h-1zM61 190h1v1h-1zM60 185h1v1h-1zM67 190h1v1h-1zM65 190h1v1h-1zM60 191h1v1h-1zM61 188h1v1h-1zM47 180h1v1h-1zM62 189h1v1h-1zM54 190h1v1h-1zM53 184h1v1h-1zM47 186h1v1h-1zM51 190h1v1h-1zM59 182h1v1h-1zM51 185h1v1h-1zM43 185h1v1h-1zM45 187h1v1h-1zM49 190h1v1h-1zM44 186h1v1h-1zM45 188h1v1h-1zM59 188h1v1h-1zM56 179h1v1h-1zM52 183h1v1h-1zM55 188h1v1h-1zM62 188h1v1h-1zM63 190h1v1h-1zM60 185h1v1h-1zM45 184h1v1h-1zM50 191h1v1h-1zM44 185h1v1h-1zM65 190h1v1h-1zM56 186h1v1h-1zM59 182h1v1h-1zM48 190h1v1h-1zM67 190h1v1h-1zM42 187h1v1h-1zM54 184h1v1h-1zM61 187h1v1h-1zM50 188h1v1h-1zM62 190h1v1h-1zM58 180h1v1h-1zM47 182h1v1h-1zM41 189h1v1h-1zM57 186h1v1h-1zM54 184h1v1h-1zM42 190h1v1h-1zM50 182h1v1h-1zM44 190h1v1h-1zM46 190h1v1h-1zM58 190h1v1h-1zM66 185h1v1h-1zM47 188h1v1h-1zM61 189h1v1h-1zM62 189h1v1h-1zM52 190h1v1h-1zM58 190h1v1h-1zM55 187h1v1h-1zM45 189h1v1h-1zM52 191h1v1h-1zM45 190h1v1h-1zM44 191h1v1h-1zM65 186h1v1h-1zM69 187h1v1h-1zM52 181h1v1h-1zM27 274h1v1h-1zM26 251h1v1h-1zM32 230h1v1h-1zM29 262h1v1h-1zM26 272h1v1h-1zM31 252h1v1h-1zM33 254h1v1h-1zM29 262h1v1h-1zM26 252h1v1h-1zM28 260h1v1h-1zM30 273h1v1h-1zM28 273h1v1h-1zM31 275h1v1h-1zM28 247h1v1h-1zM29 250h1v1h-1zM28 269h1v1h-1zM25 232h1v1h-1zM29 237h1v1h-1zM32 245h1v1h-1zM32 263h1v1h-1zM30 246h1v1h-1zM26 254h1v1h-1zM28 269h1v1h-1zM34 242h1v1h-1zM31 255h1v1h-1zM29 274h1v1h-1zM30 270h1v1h-1zM25 243h1v1h-1zM27 274h1v1h-1zM27 270h1v1h-1zM32 270h1v1h-1zM27 271h1v1h-1zM27 264h1v1h-1zM30 265h1v1h-1zM27 251h1v1h-1zM27 230h1v1h-1zM37 257h1v1h-1zM25 239h1v1h-1zM27 263h1v1h-1zM31 271h1v1h-1zM30 256h1v1h-1zM30 273h1v1h-1zM27 243h1v1h-1zM30 259h1v1h-1zM31 261h1v1h-1zM32 256h1v1h-1zM28 274h1v1h-1zM27 262h1v1h-1zM29 247h1v1h-1zM26 254h1v1h-1zM30 261h1v1h-1zM27 239h1v1h-1zM30 250h1v1h-1zM27 247h1v1h-1zM29 261h1v1h-1zM26 236h1v1h-1zM29 271h1v1h-1zM29 271h1v1h-1zM28 263h1v1h-1zM26 247h1v1h-1zM27 230h1v1h-1zM26 274h1v1h-1zM27 230h1v1h-1zM30 259h1v1h-1zM25 254h1v1h-1zM31 265h1v1h-1zM30 266h1v1h-1zM33 267h1v1h-1zM34 271h1v1h-1zM28 247h1v1h-1zM29 229h1v1h-1zM29 260h1v1h-1zM31 248h1v1h-1zM29 252h1v1h-1zM26 263h1v1h-1zM30 272h1v1h-1zM26 272h1v1h-1zM30 232h1v1h-1zM34 242h1v1h-1zM27 274h1v1h-1zM46 281h1v1h-1zM48 284h1v1h-1zM57 284h1v1h-1zM65 284h1v1h-1zM42 285h1v1h-1zM46 284h1v1h-1zM51 287h1v1h-1zM43 288h1v1h-1zM42 286h1v1h-1zM65 286h1v1h-1zM45 285h1v1h-1zM54 284h1v1h-1zM69 282h1v1h-1zM44 283h1v1h-1zM50 281h1v1h-1zM44 285h1v1h-1zM67 283h1v1h-1zM43 279h1v1h-1zM65 282h1v1h-1zM51 279h1v1h-1zM47 284h1v1h-1zM66 284h1v1h-1zM59 286h1v1h-1zM53 285h1v1h-1zM60 285h1v1h-1zM45 285h1v1h-1zM43 280h1v1h-1zM41 287h1v1h-1zM59 287h1v1h-1zM69 288h1v1h-1zM49 284h1v1h-1zM56 281h1v1h-1zM48 287h1v1h-1zM42 287h1v1h-1zM55 284h1v1h-1zM76 285h1v1h-1zM42 288h1v1h-1zM61 278h1v1h-1zM53 287h1v1h-1zM46 286h1v1h-1zM50 285h1v1h-1zM43 288h1v1h-1zM55 287h1v1h-1zM50 287h1v1h-1zM44 281h1v1h-1zM52 281h1v1h-1zM50 283h1v1h-1zM43 288h1v1h-1zM44 287h1v1h-1zM52 283h1v1h-1zM44 288h1v1h-1zM74 279h1v1h-1zM58 282h1v1h-1zM45 282h1v1h-1zM65 285h1v1h-1zM46 285h1v1h-1zM49 286h1v1h-1zM59 283h1v1h-1zM48 286h1v1h-1zM67 277h1v1h-1zM46 287h1v1h-1zM57 287h1v1h-1zM53 286h1v1h-1zM60 288h1v1h-1zM45 281h1v1h-1zM42 287h1v1h-1zM63 285h1v1h-1zM54 282h1v1h-1zM51 279h1v1h-1zM50 287h1v1h-1zM54 287h1v1h-1zM44 288h1v1h-1zM44 288h1v1h-1zM53 281h1v1h-1zM56 287h1v1h-1zM53 287h1v1h-1zM77 288h1v1h-1zM43 280h1v1h-1zM57 285h1v1h-1zM66 287h1v1h-1zM45 285h1v1h-1zM63 282h1v1h-1zM46 288h1v1h-1zM53 285h1v1h-1zM53 282h1v1h-1zM76 283h1v1h-1zM59 282h1v1h-1zM45 288h1v1h-1zM55 281h1v1h-1zM43 283h1v1h-1zM48 283h1v1h-1zM52 288h1v1h-1zM52 278h1v1h-1zM56 287h1v1h-1zM52 282h1v1h-1zM47 287h1v1h-1zM66 283h1v1h-1zM57 279h1v1h-1zM56 288h1v1h-1zM63 280h1v1h-1zM72 283h1v1h-1zM42 285h1v1h-1zM53 286h1v1h-1zM44 281h1v1h-1zM41 286h1v1h-1zM55 285h1v1h-1zM65 281h1v1h-1zM71 282h1v1h-1zM58 283h1v1h-1zM47 286h1v1h-1zM63 288h1v1h-1zM50 283h1v1h-1zM57 288h1v1h-1zM62 284h1v1h-1zM56 279h1v1h-1zM48 284h1v1h-1zM43 287h1v1h-1zM46 285h1v1h-1zM55 286h1v1h-1zM59 285h1v1h-1zM57 288h1v1h-1zM45 285h1v1h-1zM46 281h1v1h-1zM44 282h1v1h-1z" fill="#000" fill-opacity="0.1"/>
<path d="M30 74h1v1h-1zM30 46h1v1h-1zM26 31h1v1h-1zM34 55h1v1h-1zM33 61h1v1h-1zM25 57h1v1h-1zM31 70h1v1h-1zM28 64h1v1h-1zM34 60h1v1h-1zM26 73h1v1h-1zM26 32h1v1h-1zM26 76h1v1h-1zM28 42h1v1h-1zM30 73h1v1h-1zM26 68h1v1h-1zM37 72h1v1h-1zM36 74h1v1h-1zM27 71h1v1h-1zM27 59h1v1h-1zM35 57h1v1h-1zM32 57h1v1h-1zM29 51h1v1h-1zM26 46h1v1h-1zM31 62h1v1h-1zM27 31h1v1h-1zM27 34h1v1h-1zM30 65h1v1h-1zM29 50h1v1h-1zM25 39h1v1h-1zM29 43h1v1h-1zM26 42h1v1h-1zM32 51h1v1h-1zM29 46h1v1h-1zM27 54h1v1h-1zM28 39h1v1h-1zM26 69h1v1h-1zM30 74h1v1h-1zM29 62h1v1h-1zM27 69h1v1h-1zM39 53h1v1h-1zM26 59h1v1h-1zM27 33h1v1h-1zM29 57h1v1h-1zM35 52h1v1h-1zM26 53h1v1h-1zM27 76h1v1h-1zM26 52h1v1h-1zM27 58h1v1h-1zM26 72h1v1h-1zM26 65h1v1h-1zM33 68h1v1h-1zM31 73h1v1h-1zM30 39h1v1h-1zM33 69h1v1h-1zM30 63h1v1h-1zM29 73h1v1h-1zM31 55h1v1h-1zM27 71h1v1h-1zM28 55h1v1h-1zM30 69h1v1h-1zM26 71h1v1h-1zM28 47h1v1h-1zM34 61h1v1h-1zM36 75h1v1h-1zM29 54h1v1h-1zM27 68h1v1h-1zM26 76h1v1h-1zM32 68h1v1h-1zM30 66h1v1h-1zM28 49h1v1h-1zM31 67h1v1h-1zM26 44h1v1h-1zM26 61h1v1h-1zM54 88h1v1h-1zM49 88h1v1h-1zM73 88h1v1h-1zM44 88h1v1h-1zM48 83h1v1h-1zM49 84h1v1h-1zM49 84h1v1h-1zM43 88h1v1h-1zM42 88h1v1h-1zM44 83h1v1h-1zM48 85h1v1h-1zM58 82h1v1h-1zM50 88h1v1h-1zM44 84h1v1h-1zM74 88h1v1h-1zM59 89h1v1h-1zM53 87h1v1h-1zM57 82h1v1h-1zM56 87h1v1h-1zM53 87h1v1h-1zM60 86h1v1h-1zM45 83h1v1h-1zM58 89h1v1h-1zM52 89h1v1h-1zM42 87h1v1h-1zM75 89h1v1h-1zM41 87h1v1h-1zM47 86h1v1h-1zM67 88h1v1h-1zM45 87h1v1h-1zM43 86h1v1h-1zM54 87h1v1h-1zM68 82h1v1h-1zM52 85h1v1h-1zM43 87h1v1h-1zM69 88h1v1h-1zM66 84h1v1h-1zM53 88h1v1h-1zM74 79h1v1h-1zM44 88h1v1h-1zM56 86h1v1h-1zM43 88h1v1h-1zM47 89h1v1h-1zM46 84h1v1h-1zM58 82h1v1h-1zM48 85h1v1h-1zM43 89h1v1h-1zM45 85h1v1h-1zM49 88h1v1h-1zM66 87h1v1h-1zM60 80h1v1h-1zM43 86h1v1h-1zM48 85h1v1h-1zM51 82h1v1h-1zM49 85h1v1h-1zM45 89h1v1h-1zM44 89h1v1h-1zM51 88h1v1h-1zM47 88h1v1h-1zM61 89h1v1h-1zM43 89h1v1h-1zM50 83h1v1h-1zM53 82h1v1h-1zM62 86h1v1h-1zM46 87h1v1h-1zM55 87h1v1h-1zM53 87h1v1h-1zM52 85h1v1h-1zM44 89h1v1h-1zM60 85h1v1h-1zM48 85h1v1h-1zM43 88h1v1h-1zM62 89h1v1h-1zM63 86h1v1h-1zM44 86h1v1h-1zM73 82h1v1h-1zM45 86h1v1h-1zM55 86h1v1h-1zM41 87h1v1h-1zM43 83h1v1h-1zM60 88h1v1h-1zM42 88h1v1h-1zM49 87h1v1h-1zM44 87h1v1h-1zM52 86h1v1h-1zM44 89h1v1h-1zM49 87h1v1h-1zM46 84h1v1h-1zM58 88h1v1h-1zM56 87h1v1h-1zM43 88h1v1h-1zM67 83h1v1h-1zM50 84h1v1h-1zM50 87h1v1h-1zM42 84h1v1h-1zM51 84h1v1h-1zM48 85h1v1h-1zM45 88h1v1h-1zM55 88h1v1h-1zM50 87h1v1h-1zM52 82h1v1h-1zM56 88h1v1h-1zM58 86h1v1h-1zM57 89h1v1h-1zM42 84h1v1h-1zM65 89h1v1h-1zM53 88h1v1h-1zM55 86h1v1h-1zM55 89h1v1h-1zM71 87h1v1h-1zM48 84h1v1h-1zM55 89h1v1h-1zM66 89h1v1h-1zM48 85h1v1h-1zM48 87h1v1h-1zM61 83h1v1h-1zM68 86h1v1h-1zM44 86h1v1h-1zM55 86h1v1h-1zM52 87h1v1h-1zM44 86h1v1h-1zM49 82h1v1h-1zM25 165h1v1h-1zM26 153h1v1h-1zM29 147h1v1h-1zM35 149h1v1h-1zM27 148h1v1h-1zM26 176h1v1h-1zM32 143h1v1h-1zM25 148h1v1h-1zM34 172h1v1h-1zM26 164h1v1h-1zM26 167h1v1h-1zM33 176h1v1h-1zM29 156h1v1h-1zM26 169h1v1h-1zM31 148h1v1h-1zM26 164h1v1h-1zM26 168h1v1h-1zM34 167h1v1h-1zM26 168h1v1h-1zM26 158h1v1h-1zM25 178h1v1h-1zM27 171h1v1h-1zM26 144h1v1h-1zM30 167h1v1h-1zM29 134h1v1h-1zM26 164h1v1h-1zM30 165h1v1h-1zM30 176h1v1h-1zM27 173h1v1h-1zM29 162h1v1h-1zM29 174h1v1h-1zM26 177h1v1h-1zM32 165h1v1h-1zM29 174h1v1h-1zM27 157h1v1h-1zM29 155h1v1h-1zM31 151h1v1h-1zM27 173h1v1h-1zM28 138h1v1h-1zM37 136h1v1h-1zM27 175h1v1h-1zM26 169h1v1h-1zM28 167h1v1h-1zM26 172h1v1h-1zM32 159h1v1h-1zM31 163h1v1h-1zM26 174h1v1h-1zM28 176h1v1h-1zM34 149h1v1h-1zM33 138h1v1h-1zM25 175h1v1h-1zM28 161h1v1h-1zM28 165h1v1h-1zM26 168h1v1h-1zM31 170h1v1h-1zM28 163h1v1h-1zM29 176h1v1h-1zM28 166h1v1h-1zM30 151h1v1h-1zM25 163h1v1h-1zM26 164h1v1h-1zM30 159h1v1h-1zM31 176h1v1h-1zM38 142h1v1h-1zM25 145h1v1h-1zM27 164h1v1h-1zM35 177h1v1h-1zM27 175h1v1h-1zM26 174h1v1h-1zM28 146h1v1h-1zM28 137h1v1h-1zM30 164h1v1h-1zM34 176h1v1h-1zM28 154h1v1h-1zM32 166h1v1h-1zM60 189h1v1h-1zM55 186h1v1h-1zM49 186h1v1h-1zM48 190h1v1h-1zM66 187h1v1h-1zM50 189h1v1h-1zM60 191h1v1h-1zM55 187h1v1h-1zM43 191h1v1h-1zM54 188h1v1h-1zM62 181h1v1h-1zM51 190h1v1h-1zM48 188h1v1h-1zM58 190h1v1h-1zM49 184h1v1h-1zM66 191h1v1h-1zM47 189h1v1h-1zM62 185h1v1h-1zM61 189h1v1h-1zM54 186h1v1h-1zM45 188h1v1h-1zM41 189h1v1h-1zM59 186h1v1h-1zM76 190h1v1h-1zM41 189h1v1h-1zM50 191h1v1h-1zM60 189h1v1h-1zM58 191h1v1h-1zM43 188h1v1h-1zM70 185h1v1h-1zM67 183h1v1h-1zM65 186h1v1h-1zM53 190h1v1h-1zM46 185h1v1h-1zM54 191h1v1h-1zM64 190h1v1h-1zM47 187h1v1h-1zM53 186h1v1h-1zM59 189h1v1h-1zM46 187h1v1h-1zM56 190h1v1h-1zM50 188h1v1h-1zM55 185h1v1h-1zM41 183h1v1h-1zM46 189h1v1h-1zM50 183h1v1h-1zM44 187h1v1h-1zM48 189h1v1h-1zM76 191h1v1h-1zM53 190h1v1h-1zM53 187h1v1h-1zM49 186h1v1h-1zM58 186h1v1h-1zM51 190h1v1h-1zM53 189h1v1h-1zM68 182h1v1h-1zM51 190h1v1h-1zM45 191h1v1h-1zM45 191h1v1h-1zM63 181h1v1h-1zM43 185h1v1h-1zM46 188h1v1h-1zM46 189h1v1h-1zM60 188h1v1h-1zM61 190h1v1h-1zM45 181h1v1h-1zM42 191h1v1h-1zM59 189h1v1h-1zM50 185h1v1h-1zM44 185h1v1h-1zM54 190h1v1h-1zM42 190h1v1h-1zM59 191h1v1h-1zM51 185h1v1h-1zM62 188h1v1h-1zM52 184h1v1h-1zM69 189h1v1h-1zM64 190h1v1h-1zM50 191h1v1h-1zM73 190h1v1h-1zM42 185h1v1h-1zM41 184h1v1h-1zM76 186h1v1h-1zM48 186h1v1h-1zM51 180h1v1h-1zM68 189h1v1h-1zM50 189h1v1h-1zM50 181h1v1h-1zM63 181h1v1h-1zM48 188h1v1h-1zM55 188h1v1h-1zM53 191h1v1h-1zM43 189h1v1h-1zM48 190h1v1h-1zM69 190h1v1h-1zM51 191h1v1h-1zM42 186h1v1h-1zM48 191h1v1h-1zM62 189h1v1h-1zM63 183h1v1h-1zM44 191h1v1h-1zM73 191h1v1h-1zM69 187h1v1h-1zM58 188h1v1h-1zM53 190h1v1h-1zM46 187h1v1h-1zM55 189h1v1h-1zM45 189h1v1h-1zM50 189h1v1h-1zM45 187h1v1h-1zM55 189h1v1h-1zM48 188h1v1h-1zM49 187h1v1h-1zM42 185h1v1h-1zM42 184h1v1h-1zM54 186h1v1h-1zM59 190h1v1h-1zM62 186h1v1h-1zM73 189h1v1h-1zM48 186h1v1h-1zM46 181h1v1h-1zM43 189h1v1h-1zM64 189h1v1h-1zM58 187h1v1h-1zM60 189h1v1h-1zM53 189h1v1h-1zM62 183h1v1h-1zM71 185h1v1h-1zM48 184h1v1h-1zM29 248h1v1h-1zM26 248h1v1h-1zM29 263h1v1h-1zM25 261h1v1h-1zM26 248h1v1h-1zM28 264h1v1h-1zM27 259h1v1h-1zM31 262h1v1h-1zM26 265h1v1h-1zM26 246h1v1h-1zM26 251h1v1h-1zM28 257h1v1h-1zM27 251h1v1h-1zM25 257h1v1h-1zM27 257h1v1h-1zM28 243h1v1h-1zM28 267h1v1h-1zM25 272h1v1h-1zM28 261h1v1h-1zM31 271h1v1h-1zM29 251h1v1h-1zM26 257h1v1h-1zM28 258h1v1h-1zM27 234h1v1h-1zM33 267h1v1h-1zM28 269h1v1h-1zM30 273h1v1h-1zM28 259h1v1h-1zM30 260h1v1h-1zM27 275h1v1h-1zM29 265h1v1h-1zM27 260h1v1h-1zM31 266h1v1h-1zM29 269h1v1h-1zM28 235h1v1h-1zM31 249h1v1h-1zM31 270h1v1h-1zM25 258h1v1h-1zM28 260h1v1h-1zM30 252h1v1h-1zM26 256h1v1h-1zM29 260h1v1h-1zM27 236h1v1h-1zM30 240h1v1h-1zM28 241h1v1h-1zM27 274h1v1h-1zM26 241h1v1h-1zM27 247h1v1h-1zM29 244h1v1h-1zM27 241h1v1h-1zM27 245h1v1h-1zM33 268h1v1h-1zM26 257h1v1h-1zM34 255h1v1h-1zM32 241h1v1h-1zM25 238h1v1h-1zM38 263h1v1h-1zM28 256h1v1h-1zM32 263h1v1h-1zM26 251h1v1h-1zM30 263h1v1h-1zM25 259h1v1h-1zM29 261h1v1h-1zM27 271h1v1h-1zM31 261h1v1h-1zM28 262h1v1h-1zM34 266h1v1h-1zM37 269h1v1h-1zM38 252h1v1h-1zM27 262h1v1h-1zM36 264h1v1h-1zM25 267h1v1h-1zM29 274h1v1h-1zM28 258h1v1h-1zM28 246h1v1h-1zM26 253h1v1h-1zM33 247h1v1h-1zM48 284h1v1h-1zM48 284h1v1h-1zM55 282h1v1h-1zM45 285h1v1h-1zM51 287h1v1h-1zM45 284h1v1h-1zM62 284h1v1h-1zM48 287h1v1h-1zM45 284h1v1h-1zM46 283h1v1h-1zM50 287h1v1h-1zM51 285h1v1h-1zM60 281h1v1h-1zM58 287h1v1h-1zM68 287h1v1h-1zM56 288h1v1h-1zM46 281h1v1h-1zM46 287h1v1h-1zM51 287h1v1h-1zM47 284h1v1h-1zM54 287h1v1h-1zM55 286h1v1h-1zM46 285h1v1h-1zM58 285h1v1h-1zM51 284h1v1h-1zM55 286h1v1h-1zM54 286h1v1h-1zM50 288h1v1h-1zM58 283h1v1h-1zM58 284h1v1h-1zM53 288h1v1h-1zM61 283h1v1h-1zM57 287h1v1h-1zM59 287h1v1h-1zM51 283h1v1h-1zM49 288h1v1h-1zM48 284h1v1h-1zM50 288h1v1h-1zM44 286h1v1h-1zM53 286h1v1h-1zM49 285h1v1h-1zM46 286h1v1h-1zM52 283h1v1h-1zM47 288h1v1h-1zM49 281h1v1h-1zM44 287h1v1h-1zM43 283h1v1h-1zM47 287h1v1h-1zM55 288h1v1h-1zM57 286h1v1h-1zM46 286h1v1h-1zM44 282h1v1h-1zM61 285h1v1h-1zM69 286h1v1h-1zM55 284h1v1h-1zM62 286h1v1h-1zM74 286h1v1h-1zM46 283h1v1h-1zM60 286h1v1h-1zM57 286h1v1h-1zM53 287h1v1h-1zM55 288h1v1h-1zM58 281h1v1h-1zM46 284h1v1h-1zM45 287h1v1h-1zM48 287h1v1h-1zM54 288h1v1h-1zM42 285h1v1h-1zM69 282h1v1h-1zM45 286h1v1h-1zM53 284h1v1h-1zM46 286h1v1h-1zM58 286h1v1h-1zM57 283h1v1h-1zM57 282h1v1h-1zM67 287h1v1h-1zM45 285h1v1h-1zM52 283h1v1h-1zM68 280h1v1h-1zM45 286h1v1h-1zM41 286h1v1h-1zM41 286h1v1h-1zM72 283h1v1h-1zM44 287h1v1h-1zM46 287h1v1h-1zM49 288h1v1h-1zM47 285h1v1h-1zM48 288h1v1h-1zM63 286h1v1h-1zM53 288h1v1h-1zM66 284h1v1h-1zM47 287h1v1h-1zM56 286h1v1h-1zM53 281h1v1h-1zM49 287h1v1h-1zM45 286h1v1h-1zM45 284h1v1h-1zM43 279h1v1h-1zM60 287h1v1h-1zM47 288h1v1h-1zM52 285h1v1h-1zM46 287h1v1h-1zM41 287h1v1h-1zM52 288h1v1h-1zM70 287h1v1h-1zM43 288h1v1h-1zM42 282h1v1h-1zM44 283h1v1h-1zM42 282h1v1h-1zM53 287h1v1h-1zM51 286h1v1h-1zM69 285h1v1h-1zM47 283h1v1h-1zM70 281h1v1h-1zM57 288h1v1h-1zM48 283h1v1h-1zM43 285h1v1h-1zM64 286h1v1h-1zM43 283h1v1h-1zM44 288h1v1h-1zM55 287h1v1h-1zM43 287h1v1h-1zM66 288h1v1h-1zM58 283h1v1h-1zM57 278h1v1h-1zM60 288h1v1h-1zM64 286h1v1h-1zM58 286h1v1h-1zM54 286h1v1h-1zM53 287h1v1h-1zM47 288h1v1h-1z" fill="#000" fill-opacity="0.2"/>
<path d="M80 41h1v1h-1zM48 46h1v1h-1zM66 37h1v1h-1zM75 61h1v1h-1zM74 61h1v1h-1zM44 48h1v1h-1zM63 33h1v1h-1zM65 33h1v1h-1zM70 56h1v1h-1zM69 45h1v1h-1zM87 171h1v1h-1zM52 140h1v1h-1zM76 165h1v1h-1zM69 158h1v1h-1zM62 166h1v1h-1zM60 169h1v1h-1zM69 134h1v1h-1zM70 161h1v1h-1zM90 164h1v1h-1zM85 162h1v1h-1zM61 271h1v1h-1zM76 241h1v1h-1zM73 267h1v1h-1zM45 257h1v1h-1zM70 241h1v1h-1zM52 239h1v1h-1zM67 247h1v1h-1zM76 241h1v1h-1zM77 250h1v1h-1zM87 264h1v1h-1z" fill="#000" fill-opacity="0.06"/>
<text x="140.6" y="19.2" font-size="14.0" font-weight="bold" text-anchor="start" fill="#151515" >D</text>
<line x1="141.5" y1="28.5" x2="217.5" y2="28.5" stroke="#707070" stroke-width="1" />
<line x1="217.5" y1="28.5" x2="217.5" y2="90.5" stroke="#707070" stroke-width="1" />
<line x1="141.5" y1="28.5" x2="141.5" y2="90.5" stroke="#111" stroke-width="1" />
<line x1="141.0" y1="90.5" x2="218.0" y2="90.5" stroke="#111" stroke-width="1" />
<path d="M139.5 90.5H141.5M140.2 87.5H141.5M140.2 84.6H141.5M140.2 81.6H141.5M139.5 78.6H141.5M140.2 75.7H141.5M140.2 72.7H141.5M140.2 69.7H141.5M139.5 66.7H141.5M140.2 63.8H141.5M140.2 60.8H141.5M140.2 57.8H141.5M139.5 54.9H141.5M140.2 51.9H141.5M140.2 48.9H141.5M140.2 46.0H141.5M139.5 43.0H141.5M140.2 40.0H141.5M140.2 37.0H141.5M140.2 34.1H141.5M139.5 31.1H141.5M141.5 90.5v2M147.2 90.5v1.1M150.6 90.5v1.1M152.9 90.5v1.1M154.8 90.5v1.1M156.3 90.5v1.1M157.6 90.5v1.1M158.7 90.5v1.1M159.6 90.5v1.1M160.5 90.5v2M166.2 90.5v1.1M169.6 90.5v1.1M171.9 90.5v1.1M173.8 90.5v1.1M175.3 90.5v1.1M176.6 90.5v1.1M177.7 90.5v1.1M178.6 90.5v1.1M179.5 90.5v2M185.2 90.5v1.1M188.6 90.5v1.1M190.9 90.5v1.1M192.8 90.5v1.1M194.3 90.5v1.1M195.6 90.5v1.1M196.7 90.5v1.1M197.6 90.5v1.1M198.5 90.5v2M204.2 90.5v1.1M207.6 90.5v1.1M209.9 90.5v1.1M211.8 90.5v1.1M213.3 90.5v1.1M214.6 90.5v1.1M215.7 90.5v1.1M216.6 90.5v1.1M217.5 90.5v2" stroke="#111" stroke-width="1" fill="none"/>
<text x="136.3" y="92.4" font-size="5.0" font-weight="bold" text-anchor="end" textLength="3.0" lengthAdjust="spacingAndGlyphs" fill="#151515" stroke="#151515" stroke-width="0.35" >0</text>
<text x="136.3" y="80.52000000000001" font-size="5.0" font-weight="bold" text-anchor="end" textLength="6.4" lengthAdjust="spacingAndGlyphs" fill="#151515" stroke="#151515" stroke-width="0.35" >20</text>
<text x="136.3" y="68.64000000000001" font-size="5.0" font-weight="bold" text-anchor="end" textLength="6.4" lengthAdjust="spacingAndGlyphs" fill="#151515" stroke="#151515" stroke-width="0.35" >40</text>
<text x="136.3" y="56.76" font-size="5.0" font-weight="bold" text-anchor="end" textLength="6.4" lengthAdjust="spacingAndGlyphs" fill="#151515" stroke="#151515" stroke-width="0.35" >60</text>
<text x="136.3" y="44.88" font-size="5.0" font-weight="bold" text-anchor="end" textLength="6.4" lengthAdjust="spacingAndGlyphs" fill="#151515" stroke="#151515" stroke-width="0.35" >80</text>
<text x="136.3" y="33.0" font-size="5.0" font-weight="bold" text-anchor="end" textLength="9.4" lengthAdjust="spacingAndGlyphs" fill="#151515" stroke="#151515" stroke-width="0.35" >100</text>
<text x="138.5" y="102.0" font-size="4.7" font-weight="bold" textLength="6.9" lengthAdjust="spacingAndGlyphs" fill="#151515" stroke="#151515" stroke-width="0.4">10</text>
<text x="145.7" y="100.0" font-size="3.9" font-weight="bold" fill="#151515" stroke="#151515" stroke-width="0.3">0</text>
<text x="158.5" y="102.0" font-size="4.7" font-weight="bold" textLength="6.9" lengthAdjust="spacingAndGlyphs" fill="#151515" stroke="#151515" stroke-width="0.4">10</text>
<text x="165.7" y="100.0" font-size="3.9" font-weight="bold" fill="#151515" stroke="#151515" stroke-width="0.3">1</text>
<text x="178.2" y="102.0" font-size="4.7" font-weight="bold" textLength="6.9" lengthAdjust="spacingAndGlyphs" fill="#151515" stroke="#151515" stroke-width="0.4">10</text>
<text x="185.4" y="100.0" font-size="3.9" font-weight="bold" fill="#151515" stroke="#151515" stroke-width="0.3">2</text>
<text x="197.9" y="102.0" font-size="4.7" font-weight="bold" textLength="6.9" lengthAdjust="spacingAndGlyphs" fill="#151515" stroke="#151515" stroke-width="0.4">10</text>
<text x="205.1" y="100.0" font-size="3.9" font-weight="bold" fill="#151515" stroke="#151515" stroke-width="0.3">3</text>
<text x="213.5" y="102.0" font-size="4.7" font-weight="bold" textLength="6.9" lengthAdjust="spacingAndGlyphs" fill="#151515" stroke="#151515" stroke-width="0.4">10</text>
<text x="220.7" y="100.0" font-size="3.9" font-weight="bold" fill="#151515" stroke="#151515" stroke-width="0.3">4</text>
<text x="0" y="0" font-size="6.0" font-weight="bold" text-anchor="middle" textLength="24.6" lengthAdjust="spacingAndGlyphs" fill="#151515" stroke="#151515" stroke-width="0.35" transform="translate(124.3,56.5) rotate(-90)">% of Max</text>
<text x="174.1" y="111.7" font-size="6.4" font-weight="bold" text-anchor="middle" textLength="27.8" lengthAdjust="spacingAndGlyphs" fill="#151515" stroke="#151515" stroke-width="0.3" >anti-HEL</text>
<path d="M141.5,68.0 L143.9,68.5 L145.9,67.0 L146.9,63.6 L148.1,57.7 L148.6,50.5 L149.4,44.4 L150.7,43.3 L152.2,36.2 L153.4,33.0 L154.9,33.5 L156.1,35.5 L155.8,38.2 L156.8,44.4 L157.9,50.5 L158.9,57.7 L160.3,65.8 L160.9,72.5 L161.6,80.4 L163.1,86.0 L164.5,88.8 L165.9,90.0 L216.9,90.0" fill="none" stroke="#2a2a2a" stroke-width="1.1" stroke-dasharray="1.8,1.2"/>
<line x1="256.5" y1="28.5" x2="332.5" y2="28.5" stroke="#707070" stroke-width="1" />
<line x1="332.5" y1="28.5" x2="332.5" y2="90.5" stroke="#707070" stroke-width="1" />
<line x1="256.5" y1="28.5" x2="256.5" y2="90.5" stroke="#111" stroke-width="1" />
<line x1="256.0" y1="90.5" x2="333.0" y2="90.5" stroke="#111" stroke-width="1" />
<path d="M254.5 90.5H256.5M255.2 87.5H256.5M255.2 84.6H256.5M255.2 81.6H256.5M254.5 78.6H256.5M255.2 75.7H256.5M255.2 72.7H256.5M255.2 69.7H256.5M254.5 66.7H256.5M255.2 63.8H256.5M255.2 60.8H256.5M255.2 57.8H256.5M254.5 54.9H256.5M255.2 51.9H256.5M255.2 48.9H256.5M255.2 46.0H256.5M254.5 43.0H256.5M255.2 40.0H256.5M255.2 37.0H256.5M255.2 34.1H256.5M254.5 31.1H256.5M256.5 90.5v2M262.2 90.5v1.1M265.6 90.5v1.1M267.9 90.5v1.1M269.8 90.5v1.1M271.3 90.5v1.1M272.6 90.5v1.1M273.7 90.5v1.1M274.6 90.5v1.1M275.5 90.5v2M281.2 90.5v1.1M284.6 90.5v1.1M286.9 90.5v1.1M288.8 90.5v1.1M290.3 90.5v1.1M291.6 90.5v1.1M292.7 90.5v1.1M293.6 90.5v1.1M294.5 90.5v2M300.2 90.5v1.1M303.6 90.5v1.1M305.9 90.5v1.1M307.8 90.5v1.1M309.3 90.5v1.1M310.6 90.5v1.1M311.7 90.5v1.1M312.6 90.5v1.1M313.5 90.5v2M319.2 90.5v1.1M322.6 90.5v1.1M324.9 90.5v1.1M326.8 90.5v1.1M328.3 90.5v1.1M329.6 90.5v1.1M330.7 90.5v1.1M331.6 90.5v1.1M332.5 90.5v2" stroke="#111" stroke-width="1" fill="none"/>
<text x="251.3" y="92.4" font-size="5.0" font-weight="bold" text-anchor="end" textLength="3.0" lengthAdjust="spacingAndGlyphs" fill="#151515" stroke="#151515" stroke-width="0.35" >0</text>
<text x="251.3" y="80.52000000000001" font-size="5.0" font-weight="bold" text-anchor="end" textLength="6.4" lengthAdjust="spacingAndGlyphs" fill="#151515" stroke="#151515" stroke-width="0.35" >20</text>
<text x="251.3" y="68.64000000000001" font-size="5.0" font-weight="bold" text-anchor="end" textLength="6.4" lengthAdjust="spacingAndGlyphs" fill="#151515" stroke="#151515" stroke-width="0.35" >40</text>
<text x="251.3" y="56.76" font-size="5.0" font-weight="bold" text-anchor="end" textLength="6.4" lengthAdjust="spacingAndGlyphs" fill="#151515" stroke="#151515" stroke-width="0.35" >60</text>
<text x="251.3" y="44.88" font-size="5.0" font-weight="bold" text-anchor="end" textLength="6.4" lengthAdjust="spacingAndGlyphs" fill="#151515" stroke="#151515" stroke-width="0.35" >80</text>
<text x="251.3" y="33.0" font-size="5.0" font-weight="bold" text-anchor="end" textLength="9.4" lengthAdjust="spacingAndGlyphs" fill="#151515" stroke="#151515" stroke-width="0.35" >100</text>
<text x="253.5" y="102.0" font-size="4.7" font-weight="bold" textLength="6.9" lengthAdjust="spacingAndGlyphs" fill="#151515" stroke="#151515" stroke-width="0.4">10</text>
<text x="260.7" y="100.0" font-size="3.9" font-weight="bold" fill="#151515" stroke="#151515" stroke-width="0.3">0</text>
<text x="273.5" y="102.0" font-size="4.7" font-weight="bold" textLength="6.9" lengthAdjust="spacingAndGlyphs" fill="#151515" stroke="#151515" stroke-width="0.4">10</text>
<text x="280.7" y="100.0" font-size="3.9" font-weight="bold" fill="#151515" stroke="#151515" stroke-width="0.3">1</text>
<text x="293.2" y="102.0" font-size="4.7" font-weight="bold" textLength="6.9" lengthAdjust="spacingAndGlyphs" fill="#151515" stroke="#151515" stroke-width="0.4">10</text>
<text x="300.4" y="100.0" font-size="3.9" font-weight="bold" fill="#151515" stroke="#151515" stroke-width="0.3">2</text>
<text x="312.9" y="102.0" font-size="4.7" font-weight="bold" textLength="6.9" lengthAdjust="spacingAndGlyphs" fill="#151515" stroke="#151515" stroke-width="0.4">10</text>
<text x="320.1" y="100.0" font-size="3.9" font-weight="bold" fill="#151515" stroke="#151515" stroke-width="0.3">3</text>
<text x="328.5" y="102.0" font-size="4.7" font-weight="bold" textLength="6.9" lengthAdjust="spacingAndGlyphs" fill="#151515" stroke="#151515" stroke-width="0.4">10</text>
<text x="335.7" y="100.0" font-size="3.9" font-weight="bold" fill="#151515" stroke="#151515" stroke-width="0.3">4</text>
<text x="0" y="0" font-size="6.0" font-weight="bold" text-anchor="middle" textLength="24.6" lengthAdjust="spacingAndGlyphs" fill="#151515" stroke="#151515" stroke-width="0.35" transform="translate(239.3,56.5) rotate(-90)">% of Max</text>
<text x="289.1" y="111.7" font-size="6.4" font-weight="bold" text-anchor="middle" textLength="27.8" lengthAdjust="spacingAndGlyphs" fill="#151515" stroke="#151515" stroke-width="0.3" >anti-HEL</text>
<path d="M256.5,75.4 L257.1,74.3 L258.2,72.5 L259.4,70.2 L260.5,66.8 L261.7,65.0 L262.8,62.2 L263.9,59.0 L264.9,52.6 L266.0,49.0 L267.0,48.0 L267.5,44.4 L268.0,37.2 L268.5,32.6 L269.3,32.1 L269.7,35.2 L270.4,40.3 L270.9,42.3 L271.8,43.4 L272.8,44.4 L273.6,47.4 L274.6,51.5 L275.7,56.7 L276.6,67.4 L278.4,74.3 L280.1,80.0 L281.8,85.8 L283.5,88.6 L285.8,89.8 L332.2,89.8" fill="none" stroke="#222" stroke-width="1"/>
<line x1="366.5" y1="28.5" x2="442.5" y2="28.5" stroke="#707070" stroke-width="1" />
<line x1="442.5" y1="28.5" x2="442.5" y2="90.5" stroke="#707070" stroke-width="1" />
<line x1="366.5" y1="28.5" x2="366.5" y2="90.5" stroke="#111" stroke-width="1" />
<line x1="366.0" y1="90.5" x2="443.0" y2="90.5" stroke="#111" stroke-width="1" />
<path d="M364.5 90.5H366.5M365.2 87.5H366.5M365.2 84.6H366.5M365.2 81.6H366.5M364.5 78.6H366.5M365.2 75.7H366.5M365.2 72.7H366.5M365.2 69.7H366.5M364.5 66.7H366.5M365.2 63.8H366.5M365.2 60.8H366.5M365.2 57.8H366.5M364.5 54.9H366.5M365.2 51.9H366.5M365.2 48.9H366.5M365.2 46.0H366.5M364.5 43.0H366.5M365.2 40.0H366.5M365.2 37.0H366.5M365.2 34.1H366.5M364.5 31.1H366.5M366.5 90.5v2M372.2 90.5v1.1M375.6 90.5v1.1M377.9 90.5v1.1M379.8 90.5v1.1M381.3 90.5v1.1M382.6 90.5v1.1M383.7 90.5v1.1M384.6 90.5v1.1M385.5 90.5v2M391.2 90.5v1.1M394.6 90.5v1.1M396.9 90.5v1.1M398.8 90.5v1.1M400.3 90.5v1.1M401.6 90.5v1.1M402.7 90.5v1.1M403.6 90.5v1.1M404.5 90.5v2M410.2 90.5v1.1M413.6 90.5v1.1M415.9 90.5v1.1M417.8 90.5v1.1M419.3 90.5v1.1M420.6 90.5v1.1M421.7 90.5v1.1M422.6 90.5v1.1M423.5 90.5v2M429.2 90.5v1.1M432.6 90.5v1.1M434.9 90.5v1.1M436.8 90.5v1.1M438.3 90.5v1.1M439.6 90.5v1.1M440.7 90.5v1.1M441.6 90.5v1.1M442.5 90.5v2" stroke="#111" stroke-width="1" fill="none"/>
<text x="361.3" y="92.4" font-size="5.0" font-weight="bold" text-anchor="end" textLength="3.0" lengthAdjust="spacingAndGlyphs" fill="#151515" stroke="#151515" stroke-width="0.35" >0</text>
<text x="361.3" y="80.52000000000001" font-size="5.0" font-weight="bold" text-anchor="end" textLength="6.4" lengthAdjust="spacingAndGlyphs" fill="#151515" stroke="#151515" stroke-width="0.35" >20</text>
<text x="361.3" y="68.64000000000001" font-size="5.0" font-weight="bold" text-anchor="end" textLength="6.4" lengthAdjust="spacingAndGlyphs" fill="#151515" stroke="#151515" stroke-width="0.35" >40</text>
<text x="361.3" y="56.76" font-size="5.0" font-weight="bold" text-anchor="end" textLength="6.4" lengthAdjust="spacingAndGlyphs" fill="#151515" stroke="#151515" stroke-width="0.35" >60</text>
<text x="361.3" y="44.88" font-size="5.0" font-weight="bold" text-anchor="end" textLength="6.4" lengthAdjust="spacingAndGlyphs" fill="#151515" stroke="#151515" stroke-width="0.35" >80</text>
<text x="361.3" y="33.0" font-size="5.0" font-weight="bold" text-anchor="end" textLength="9.4" lengthAdjust="spacingAndGlyphs" fill="#151515" stroke="#151515" stroke-width="0.35" >100</text>
<text x="363.5" y="102.0" font-size="4.7" font-weight="bold" textLength="6.9" lengthAdjust="spacingAndGlyphs" fill="#151515" stroke="#151515" stroke-width="0.4">10</text>
<text x="370.7" y="100.0" font-size="3.9" font-weight="bold" fill="#151515" stroke="#151515" stroke-width="0.3">0</text>
<text x="383.5" y="102.0" font-size="4.7" font-weight="bold" textLength="6.9" lengthAdjust="spacingAndGlyphs" fill="#151515" stroke="#151515" stroke-width="0.4">10</text>
<text x="390.7" y="100.0" font-size="3.9" font-weight="bold" fill="#151515" stroke="#151515" stroke-width="0.3">1</text>
<text x="403.2" y="102.0" font-size="4.7" font-weight="bold" textLength="6.9" lengthAdjust="spacingAndGlyphs" fill="#151515" stroke="#151515" stroke-width="0.4">10</text>
<text x="410.4" y="100.0" font-size="3.9" font-weight="bold" fill="#151515" stroke="#151515" stroke-width="0.3">2</text>
<text x="422.9" y="102.0" font-size="4.7" font-weight="bold" textLength="6.9" lengthAdjust="spacingAndGlyphs" fill="#151515" stroke="#151515" stroke-width="0.4">10</text>
<text x="430.1" y="100.0" font-size="3.9" font-weight="bold" fill="#151515" stroke="#151515" stroke-width="0.3">3</text>
<text x="438.5" y="102.0" font-size="4.7" font-weight="bold" textLength="6.9" lengthAdjust="spacingAndGlyphs" fill="#151515" stroke="#151515" stroke-width="0.4">10</text>
<text x="445.7" y="100.0" font-size="3.9" font-weight="bold" fill="#151515" stroke="#151515" stroke-width="0.3">4</text>
<text x="0" y="0" font-size="6.0" font-weight="bold" text-anchor="middle" textLength="24.6" lengthAdjust="spacingAndGlyphs" fill="#151515" stroke="#151515" stroke-width="0.35" transform="translate(349.3,56.5) rotate(-90)">% of Max</text>
<text x="399.1" y="111.7" font-size="6.4" font-weight="bold" text-anchor="middle" textLength="27.8" lengthAdjust="spacingAndGlyphs" fill="#151515" stroke="#151515" stroke-width="0.3" >anti-HEL</text>
<path d="M366.5,68.0 L368.9,68.5 L370.9,67.0 L371.9,63.6 L373.1,57.7 L373.6,50.5 L374.4,44.4 L375.7,43.3 L377.2,36.2 L378.4,33.0 L379.9,33.5 L381.1,35.5 L380.8,38.2 L381.8,44.4 L382.9,50.5 L383.9,57.7 L385.3,65.8 L385.9,72.5 L386.6,80.4 L388.1,86.0 L389.5,88.8 L390.9,90.0 L441.9,90.0" fill="none" stroke="#2a2a2a" stroke-width="1.1" stroke-dasharray="1.8,1.2"/>
<path d="M366.5,75.4 L367.1,74.3 L368.2,72.5 L369.4,70.2 L370.5,66.8 L371.7,65.0 L372.8,62.2 L373.9,59.0 L374.9,52.6 L376.0,49.0 L377.0,48.0 L377.5,44.4 L378.0,37.2 L378.5,32.6 L379.3,32.1 L379.7,35.2 L380.4,40.3 L380.9,42.3 L381.8,43.4 L382.8,44.4 L383.6,47.4 L384.6,51.5 L385.7,56.7 L386.6,67.4 L388.4,74.3 L390.1,80.0 L391.8,85.8 L393.5,88.6 L395.8,89.8 L442.2,89.8" fill="none" stroke="#222" stroke-width="1"/>
<text x="140.6" y="126.2" font-size="14.0" font-weight="bold" text-anchor="start" fill="#151515" >E</text>
<line x1="141.5" y1="129.5" x2="217.5" y2="129.5" stroke="#707070" stroke-width="1" />
<line x1="217.5" y1="129.5" x2="217.5" y2="191.5" stroke="#707070" stroke-width="1" />
<line x1="141.5" y1="129.5" x2="141.5" y2="191.5" stroke="#111" stroke-width="1" />
<line x1="141.0" y1="191.5" x2="218.0" y2="191.5" stroke="#111" stroke-width="1" />
<path d="M139.5 191.5H141.5M140.2 188.5H141.5M140.2 185.6H141.5M140.2 182.6H141.5M139.5 179.6H141.5M140.2 176.7H141.5M140.2 173.7H141.5M140.2 170.7H141.5M139.5 167.7H141.5M140.2 164.8H141.5M140.2 161.8H141.5M140.2 158.8H141.5M139.5 155.9H141.5M140.2 152.9H141.5M140.2 149.9H141.5M140.2 146.9H141.5M139.5 144.0H141.5M140.2 141.0H141.5M140.2 138.0H141.5M140.2 135.1H141.5M139.5 132.1H141.5M141.5 191.5v2M147.2 191.5v1.1M150.6 191.5v1.1M152.9 191.5v1.1M154.8 191.5v1.1M156.3 191.5v1.1M157.6 191.5v1.1M158.7 191.5v1.1M159.6 191.5v1.1M160.5 191.5v2M166.2 191.5v1.1M169.6 191.5v1.1M171.9 191.5v1.1M173.8 191.5v1.1M175.3 191.5v1.1M176.6 191.5v1.1M177.7 191.5v1.1M178.6 191.5v1.1M179.5 191.5v2M185.2 191.5v1.1M188.6 191.5v1.1M190.9 191.5v1.1M192.8 191.5v1.1M194.3 191.5v1.1M195.6 191.5v1.1M196.7 191.5v1.1M197.6 191.5v1.1M198.5 191.5v2M204.2 191.5v1.1M207.6 191.5v1.1M209.9 191.5v1.1M211.8 191.5v1.1M213.3 191.5v1.1M214.6 191.5v1.1M215.7 191.5v1.1M216.6 191.5v1.1M217.5 191.5v2" stroke="#111" stroke-width="1" fill="none"/>
<text x="136.3" y="193.4" font-size="5.0" font-weight="bold" text-anchor="end" textLength="3.0" lengthAdjust="spacingAndGlyphs" fill="#151515" stroke="#151515" stroke-width="0.35" >0</text>
<text x="136.3" y="181.52" font-size="5.0" font-weight="bold" text-anchor="end" textLength="6.4" lengthAdjust="spacingAndGlyphs" fill="#151515" stroke="#151515" stroke-width="0.35" >20</text>
<text x="136.3" y="169.64000000000001" font-size="5.0" font-weight="bold" text-anchor="end" textLength="6.4" lengthAdjust="spacingAndGlyphs" fill="#151515" stroke="#151515" stroke-width="0.35" >40</text>
<text x="136.3" y="157.76000000000002" font-size="5.0" font-weight="bold" text-anchor="end" textLength="6.4" lengthAdjust="spacingAndGlyphs" fill="#151515" stroke="#151515" stroke-width="0.35" >60</text>
<text x="136.3" y="145.88" font-size="5.0" font-weight="bold" text-anchor="end" textLength="6.4" lengthAdjust="spacingAndGlyphs" fill="#151515" stroke="#151515" stroke-width="0.35" >80</text>
<text x="136.3" y="134.0" font-size="5.0" font-weight="bold" text-anchor="end" textLength="9.4" lengthAdjust="spacingAndGlyphs" fill="#151515" stroke="#151515" stroke-width="0.35" >100</text>
<text x="138.5" y="200.5" font-size="4.7" font-weight="bold" textLength="6.9" lengthAdjust="spacingAndGlyphs" fill="#151515" stroke="#151515" stroke-width="0.4">10</text>
<text x="145.7" y="198.5" font-size="3.9" font-weight="bold" fill="#151515" stroke="#151515" stroke-width="0.3">0</text>
<text x="158.5" y="200.5" font-size="4.7" font-weight="bold" textLength="6.9" lengthAdjust="spacingAndGlyphs" fill="#151515" stroke="#151515" stroke-width="0.4">10</text>
<text x="165.7" y="198.5" font-size="3.9" font-weight="bold" fill="#151515" stroke="#151515" stroke-width="0.3">1</text>
<text x="178.2" y="200.5" font-size="4.7" font-weight="bold" textLength="6.9" lengthAdjust="spacingAndGlyphs" fill="#151515" stroke="#151515" stroke-width="0.4">10</text>
<text x="185.4" y="198.5" font-size="3.9" font-weight="bold" fill="#151515" stroke="#151515" stroke-width="0.3">2</text>
<text x="197.9" y="200.5" font-size="4.7" font-weight="bold" textLength="6.9" lengthAdjust="spacingAndGlyphs" fill="#151515" stroke="#151515" stroke-width="0.4">10</text>
<text x="205.1" y="198.5" font-size="3.9" font-weight="bold" fill="#151515" stroke="#151515" stroke-width="0.3">3</text>
<text x="213.5" y="200.5" font-size="4.7" font-weight="bold" textLength="6.9" lengthAdjust="spacingAndGlyphs" fill="#151515" stroke="#151515" stroke-width="0.4">10</text>
<text x="220.7" y="198.5" font-size="3.9" font-weight="bold" fill="#151515" stroke="#151515" stroke-width="0.3">4</text>
<text x="0" y="0" font-size="6.0" font-weight="bold" text-anchor="middle" textLength="24.6" lengthAdjust="spacingAndGlyphs" fill="#151515" stroke="#151515" stroke-width="0.35" transform="translate(124.3,157.3) rotate(-90)">% of Max</text>
<text x="174.1" y="210.4" font-size="6.4" font-weight="bold" text-anchor="middle" textLength="27.8" lengthAdjust="spacingAndGlyphs" fill="#151515" stroke="#151515" stroke-width="0.3" >anti-HEL</text>
<path d="M141.7,170.7 L143.1,170.1 L144.2,168.4 L145.4,165.5 L146.5,162.6 L147.7,159.2 L148.3,156.9 L148.8,152.3 L149.4,147.7 L150.0,145.4 L151.7,142.5 L152.9,140.8 L154.0,137.9 L154.2,134.5 L155.2,142.0 L155.7,144.8 L156.3,148.9 L156.9,152.9 L157.5,156.9 L158.0,158.0 L159.2,164.9 L160.3,175.3 L161.5,183.3 L162.6,187.9 L164.4,190.2 L165.9,191.0 L216.9,191.0" fill="none" stroke="#2a2a2a" stroke-width="1.1" stroke-dasharray="1.8,1.2"/>
<line x1="256.5" y1="129.5" x2="332.5" y2="129.5" stroke="#707070" stroke-width="1" />
<line x1="332.5" y1="129.5" x2="332.5" y2="191.5" stroke="#707070" stroke-width="1" />
<line x1="256.5" y1="129.5" x2="256.5" y2="191.5" stroke="#111" stroke-width="1" />
<line x1="256.0" y1="191.5" x2="333.0" y2="191.5" stroke="#111" stroke-width="1" />
<path d="M254.5 191.5H256.5M255.2 188.5H256.5M255.2 185.6H256.5M255.2 182.6H256.5M254.5 179.6H256.5M255.2 176.7H256.5M255.2 173.7H256.5M255.2 170.7H256.5M254.5 167.7H256.5M255.2 164.8H256.5M255.2 161.8H256.5M255.2 158.8H256.5M254.5 155.9H256.5M255.2 152.9H256.5M255.2 149.9H256.5M255.2 146.9H256.5M254.5 144.0H256.5M255.2 141.0H256.5M255.2 138.0H256.5M255.2 135.1H256.5M254.5 132.1H256.5M256.5 191.5v2M262.2 191.5v1.1M265.6 191.5v1.1M267.9 191.5v1.1M269.8 191.5v1.1M271.3 191.5v1.1M272.6 191.5v1.1M273.7 191.5v1.1M274.6 191.5v1.1M275.5 191.5v2M281.2 191.5v1.1M284.6 191.5v1.1M286.9 191.5v1.1M288.8 191.5v1.1M290.3 191.5v1.1M291.6 191.5v1.1M292.7 191.5v1.1M293.6 191.5v1.1M294.5 191.5v2M300.2 191.5v1.1M303.6 191.5v1.1M305.9 191.5v1.1M307.8 191.5v1.1M309.3 191.5v1.1M310.6 191.5v1.1M311.7 191.5v1.1M312.6 191.5v1.1M313.5 191.5v2M319.2 191.5v1.1M322.6 191.5v1.1M324.9 191.5v1.1M326.8 191.5v1.1M328.3 191.5v1.1M329.6 191.5v1.1M330.7 191.5v1.1M331.6 191.5v1.1M332.5 191.5v2" stroke="#111" stroke-width="1" fill="none"/>
<text x="251.3" y="193.4" font-size="5.0" font-weight="bold" text-anchor="end" textLength="3.0" lengthAdjust="spacingAndGlyphs" fill="#151515" stroke="#151515" stroke-width="0.35" >0</text>
<text x="251.3" y="181.52" font-size="5.0" font-weight="bold" text-anchor="end" textLength="6.4" lengthAdjust="spacingAndGlyphs" fill="#151515" stroke="#151515" stroke-width="0.35" >20</text>
<text x="251.3" y="169.64000000000001" font-size="5.0" font-weight="bold" text-anchor="end" textLength="6.4" lengthAdjust="spacingAndGlyphs" fill="#151515" stroke="#151515" stroke-width="0.35" >40</text>
<text x="251.3" y="157.76000000000002" font-size="5.0" font-weight="bold" text-anchor="end" textLength="6.4" lengthAdjust="spacingAndGlyphs" fill="#151515" stroke="#151515" stroke-width="0.35" >60</text>
<text x="251.3" y="145.88" font-size="5.0" font-weight="bold" text-anchor="end" textLength="6.4" lengthAdjust="spacingAndGlyphs" fill="#151515" stroke="#151515" stroke-width="0.35" >80</text>
<text x="251.3" y="134.0" font-size="5.0" font-weight="bold" text-anchor="end" textLength="9.4" lengthAdjust="spacingAndGlyphs" fill="#151515" stroke="#151515" stroke-width="0.35" >100</text>
<text x="253.5" y="200.5" font-size="4.7" font-weight="bold" textLength="6.9" lengthAdjust="spacingAndGlyphs" fill="#151515" stroke="#151515" stroke-width="0.4">10</text>
<text x="260.7" y="198.5" font-size="3.9" font-weight="bold" fill="#151515" stroke="#151515" stroke-width="0.3">0</text>
<text x="273.5" y="200.5" font-size="4.7" font-weight="bold" textLength="6.9" lengthAdjust="spacingAndGlyphs" fill="#151515" stroke="#151515" stroke-width="0.4">10</text>
<text x="280.7" y="198.5" font-size="3.9" font-weight="bold" fill="#151515" stroke="#151515" stroke-width="0.3">1</text>
<text x="293.2" y="200.5" font-size="4.7" font-weight="bold" textLength="6.9" lengthAdjust="spacingAndGlyphs" fill="#151515" stroke="#151515" stroke-width="0.4">10</text>
<text x="300.4" y="198.5" font-size="3.9" font-weight="bold" fill="#151515" stroke="#151515" stroke-width="0.3">2</text>
<text x="312.9" y="200.5" font-size="4.7" font-weight="bold" textLength="6.9" lengthAdjust="spacingAndGlyphs" fill="#151515" stroke="#151515" stroke-width="0.4">10</text>
<text x="320.1" y="198.5" font-size="3.9" font-weight="bold" fill="#151515" stroke="#151515" stroke-width="0.3">3</text>
<text x="328.5" y="200.5" font-size="4.7" font-weight="bold" textLength="6.9" lengthAdjust="spacingAndGlyphs" fill="#151515" stroke="#151515" stroke-width="0.4">10</text>
<text x="335.7" y="198.5" font-size="3.9" font-weight="bold" fill="#151515" stroke="#151515" stroke-width="0.3">4</text>
<text x="0" y="0" font-size="6.0" font-weight="bold" text-anchor="middle" textLength="24.6" lengthAdjust="spacingAndGlyphs" fill="#151515" stroke="#151515" stroke-width="0.35" transform="translate(239.3,157.3) rotate(-90)">% of Max</text>
<text x="289.1" y="210.4" font-size="6.4" font-weight="bold" text-anchor="middle" textLength="27.8" lengthAdjust="spacingAndGlyphs" fill="#151515" stroke="#151515" stroke-width="0.3" >anti-HEL</text>
<path d="M256.7,162.6 L257.7,163.8 L258.8,164.3 L260.0,161.5 L261.1,158.0 L261.7,154.6 L262.8,153.5 L264.0,147.7 L264.8,142.0 L265.1,139.7 L265.7,138.5 L266.6,137.9 L267.4,135.0 L268.2,132.8 L268.6,136.2 L269.2,140.8 L269.7,143.7 L270.3,146.6 L271.2,153.5 L272.4,156.9 L272.6,158.0 L273.8,167.2 L274.9,175.3 L276.1,183.3 L277.2,187.9 L278.4,190.2 L280.7,190.8 L332.2,191.0" fill="none" stroke="#222" stroke-width="1"/>
<line x1="366.5" y1="129.5" x2="442.5" y2="129.5" stroke="#707070" stroke-width="1" />
<line x1="442.5" y1="129.5" x2="442.5" y2="191.5" stroke="#707070" stroke-width="1" />
<line x1="366.5" y1="129.5" x2="366.5" y2="191.5" stroke="#111" stroke-width="1" />
<line x1="366.0" y1="191.5" x2="443.0" y2="191.5" stroke="#111" stroke-width="1" />
<path d="M364.5 191.5H366.5M365.2 188.5H366.5M365.2 185.6H366.5M365.2 182.6H366.5M364.5 179.6H366.5M365.2 176.7H366.5M365.2 173.7H366.5M365.2 170.7H366.5M364.5 167.7H366.5M365.2 164.8H366.5M365.2 161.8H366.5M365.2 158.8H366.5M364.5 155.9H366.5M365.2 152.9H366.5M365.2 149.9H366.5M365.2 146.9H366.5M364.5 144.0H366.5M365.2 141.0H366.5M365.2 138.0H366.5M365.2 135.1H366.5M364.5 132.1H366.5M366.5 191.5v2M372.2 191.5v1.1M375.6 191.5v1.1M377.9 191.5v1.1M379.8 191.5v1.1M381.3 191.5v1.1M382.6 191.5v1.1M383.7 191.5v1.1M384.6 191.5v1.1M385.5 191.5v2M391.2 191.5v1.1M394.6 191.5v1.1M396.9 191.5v1.1M398.8 191.5v1.1M400.3 191.5v1.1M401.6 191.5v1.1M402.7 191.5v1.1M403.6 191.5v1.1M404.5 191.5v2M410.2 191.5v1.1M413.6 191.5v1.1M415.9 191.5v1.1M417.8 191.5v1.1M419.3 191.5v1.1M420.6 191.5v1.1M421.7 191.5v1.1M422.6 191.5v1.1M423.5 191.5v2M429.2 191.5v1.1M432.6 191.5v1.1M434.9 191.5v1.1M436.8 191.5v1.1M438.3 191.5v1.1M439.6 191.5v1.1M440.7 191.5v1.1M441.6 191.5v1.1M442.5 191.5v2" stroke="#111" stroke-width="1" fill="none"/>
<text x="361.3" y="193.4" font-size="5.0" font-weight="bold" text-anchor="end" textLength="3.0" lengthAdjust="spacingAndGlyphs" fill="#151515" stroke="#151515" stroke-width="0.35" >0</text>
<text x="361.3" y="181.52" font-size="5.0" font-weight="bold" text-anchor="end" textLength="6.4" lengthAdjust="spacingAndGlyphs" fill="#151515" stroke="#151515" stroke-width="0.35" >20</text>
<text x="361.3" y="169.64000000000001" font-size="5.0" font-weight="bold" text-anchor="end" textLength="6.4" lengthAdjust="spacingAndGlyphs" fill="#151515" stroke="#151515" stroke-width="0.35" >40</text>
<text x="361.3" y="157.76000000000002" font-size="5.0" font-weight="bold" text-anchor="end" textLength="6.4" lengthAdjust="spacingAndGlyphs" fill="#151515" stroke="#151515" stroke-width="0.35" >60</text>
<text x="361.3" y="145.88" font-size="5.0" font-weight="bold" text-anchor="end" textLength="6.4" lengthAdjust="spacingAndGlyphs" fill="#151515" stroke="#151515" stroke-width="0.35" >80</text>
<text x="361.3" y="134.0" font-size="5.0" font-weight="bold" text-anchor="end" textLength="9.4" lengthAdjust="spacingAndGlyphs" fill="#151515" stroke="#151515" stroke-width="0.35" >100</text>
<text x="363.5" y="200.5" font-size="4.7" font-weight="bold" textLength="6.9" lengthAdjust="spacingAndGlyphs" fill="#151515" stroke="#151515" stroke-width="0.4">10</text>
<text x="370.7" y="198.5" font-size="3.9" font-weight="bold" fill="#151515" stroke="#151515" stroke-width="0.3">0</text>
<text x="383.5" y="200.5" font-size="4.7" font-weight="bold" textLength="6.9" lengthAdjust="spacingAndGlyphs" fill="#151515" stroke="#151515" stroke-width="0.4">10</text>
<text x="390.7" y="198.5" font-size="3.9" font-weight="bold" fill="#151515" stroke="#151515" stroke-width="0.3">1</text>
<text x="403.2" y="200.5" font-size="4.7" font-weight="bold" textLength="6.9" lengthAdjust="spacingAndGlyphs" fill="#151515" stroke="#151515" stroke-width="0.4">10</text>
<text x="410.4" y="198.5" font-size="3.9" font-weight="bold" fill="#151515" stroke="#151515" stroke-width="0.3">2</text>
<text x="422.9" y="200.5" font-size="4.7" font-weight="bold" textLength="6.9" lengthAdjust="spacingAndGlyphs" fill="#151515" stroke="#151515" stroke-width="0.4">10</text>
<text x="430.1" y="198.5" font-size="3.9" font-weight="bold" fill="#151515" stroke="#151515" stroke-width="0.3">3</text>
<text x="438.5" y="200.5" font-size="4.7" font-weight="bold" textLength="6.9" lengthAdjust="spacingAndGlyphs" fill="#151515" stroke="#151515" stroke-width="0.4">10</text>
<text x="445.7" y="198.5" font-size="3.9" font-weight="bold" fill="#151515" stroke="#151515" stroke-width="0.3">4</text>
<text x="0" y="0" font-size="6.0" font-weight="bold" text-anchor="middle" textLength="24.6" lengthAdjust="spacingAndGlyphs" fill="#151515" stroke="#151515" stroke-width="0.35" transform="translate(349.3,157.3) rotate(-90)">% of Max</text>
<text x="399.1" y="210.4" font-size="6.4" font-weight="bold" text-anchor="middle" textLength="27.8" lengthAdjust="spacingAndGlyphs" fill="#151515" stroke="#151515" stroke-width="0.3" >anti-HEL</text>
<path d="M366.7,170.7 L368.1,170.1 L369.2,168.4 L370.4,165.5 L371.5,162.6 L372.7,159.2 L373.3,156.9 L373.8,152.3 L374.4,147.7 L375.0,145.4 L376.7,142.5 L377.9,140.8 L379.0,137.9 L379.2,134.5 L380.2,142.0 L380.7,144.8 L381.3,148.9 L381.9,152.9 L382.5,156.9 L383.0,158.0 L384.2,164.9 L385.3,175.3 L386.5,183.3 L387.6,187.9 L389.4,190.2 L390.9,191.0 L441.9,191.0" fill="none" stroke="#2a2a2a" stroke-width="1.1" stroke-dasharray="1.8,1.2"/>
<path d="M366.7,162.6 L367.7,163.8 L368.8,164.3 L370.0,161.5 L371.1,158.0 L371.7,154.6 L372.8,153.5 L374.0,147.7 L374.8,142.0 L375.1,139.7 L375.7,138.5 L376.6,137.9 L377.4,135.0 L378.2,132.8 L378.6,136.2 L379.2,140.8 L379.7,143.7 L380.3,146.6 L381.2,153.5 L382.4,156.9 L382.6,158.0 L383.8,167.2 L384.9,175.3 L386.1,183.3 L387.2,187.9 L388.4,190.2 L390.7,190.8 L442.2,191.0" fill="none" stroke="#222" stroke-width="1"/>
<text x="140.6" y="222.5" font-size="14.0" font-weight="bold" text-anchor="start" fill="#151515" >F</text>
<line x1="141.5" y1="226.5" x2="217.5" y2="226.5" stroke="#707070" stroke-width="1" />
<line x1="217.5" y1="226.5" x2="217.5" y2="288.5" stroke="#707070" stroke-width="1" />
<line x1="141.5" y1="226.5" x2="141.5" y2="288.5" stroke="#111" stroke-width="1" />
<line x1="141.0" y1="288.5" x2="218.0" y2="288.5" stroke="#111" stroke-width="1" />
<path d="M139.5 288.5H141.5M140.2 285.5H141.5M140.2 282.6H141.5M140.2 279.6H141.5M139.5 276.6H141.5M140.2 273.6H141.5M140.2 270.7H141.5M140.2 267.7H141.5M139.5 264.7H141.5M140.2 261.8H141.5M140.2 258.8H141.5M140.2 255.8H141.5M139.5 252.9H141.5M140.2 249.9H141.5M140.2 246.9H141.5M140.2 243.9H141.5M139.5 241.0H141.5M140.2 238.0H141.5M140.2 235.0H141.5M140.2 232.1H141.5M139.5 229.1H141.5M141.5 288.5v2M147.2 288.5v1.1M150.6 288.5v1.1M152.9 288.5v1.1M154.8 288.5v1.1M156.3 288.5v1.1M157.6 288.5v1.1M158.7 288.5v1.1M159.6 288.5v1.1M160.5 288.5v2M166.2 288.5v1.1M169.6 288.5v1.1M171.9 288.5v1.1M173.8 288.5v1.1M175.3 288.5v1.1M176.6 288.5v1.1M177.7 288.5v1.1M178.6 288.5v1.1M179.5 288.5v2M185.2 288.5v1.1M188.6 288.5v1.1M190.9 288.5v1.1M192.8 288.5v1.1M194.3 288.5v1.1M195.6 288.5v1.1M196.7 288.5v1.1M197.6 288.5v1.1M198.5 288.5v2M204.2 288.5v1.1M207.6 288.5v1.1M209.9 288.5v1.1M211.8 288.5v1.1M213.3 288.5v1.1M214.6 288.5v1.1M215.7 288.5v1.1M216.6 288.5v1.1M217.5 288.5v2" stroke="#111" stroke-width="1" fill="none"/>
<text x="136.3" y="290.4" font-size="5.0" font-weight="bold" text-anchor="end" textLength="3.0" lengthAdjust="spacingAndGlyphs" fill="#151515" stroke="#151515" stroke-width="0.35" >0</text>
<text x="136.3" y="278.52" font-size="5.0" font-weight="bold" text-anchor="end" textLength="6.4" lengthAdjust="spacingAndGlyphs" fill="#151515" stroke="#151515" stroke-width="0.35" >20</text>
<text x="136.3" y="266.64" font-size="5.0" font-weight="bold" text-anchor="end" textLength="6.4" lengthAdjust="spacingAndGlyphs" fill="#151515" stroke="#151515" stroke-width="0.35" >40</text>
<text x="136.3" y="254.76000000000002" font-size="5.0" font-weight="bold" text-anchor="end" textLength="6.4" lengthAdjust="spacingAndGlyphs" fill="#151515" stroke="#151515" stroke-width="0.35" >60</text>
<text x="136.3" y="242.88" font-size="5.0" font-weight="bold" text-anchor="end" textLength="6.4" lengthAdjust="spacingAndGlyphs" fill="#151515" stroke="#151515" stroke-width="0.35" >80</text>
<text x="136.3" y="231.0" font-size="5.0" font-weight="bold" text-anchor="end" textLength="9.4" lengthAdjust="spacingAndGlyphs" fill="#151515" stroke="#151515" stroke-width="0.35" >100</text>
<text x="138.5" y="299.3" font-size="4.7" font-weight="bold" textLength="6.9" lengthAdjust="spacingAndGlyphs" fill="#151515" stroke="#151515" stroke-width="0.4">10</text>
<text x="145.7" y="297.3" font-size="3.9" font-weight="bold" fill="#151515" stroke="#151515" stroke-width="0.3">0</text>
<text x="158.5" y="299.3" font-size="4.7" font-weight="bold" textLength="6.9" lengthAdjust="spacingAndGlyphs" fill="#151515" stroke="#151515" stroke-width="0.4">10</text>
<text x="165.7" y="297.3" font-size="3.9" font-weight="bold" fill="#151515" stroke="#151515" stroke-width="0.3">1</text>
<text x="178.2" y="299.3" font-size="4.7" font-weight="bold" textLength="6.9" lengthAdjust="spacingAndGlyphs" fill="#151515" stroke="#151515" stroke-width="0.4">10</text>
<text x="185.4" y="297.3" font-size="3.9" font-weight="bold" fill="#151515" stroke="#151515" stroke-width="0.3">2</text>
<text x="197.9" y="299.3" font-size="4.7" font-weight="bold" textLength="6.9" lengthAdjust="spacingAndGlyphs" fill="#151515" stroke="#151515" stroke-width="0.4">10</text>
<text x="205.1" y="297.3" font-size="3.9" font-weight="bold" fill="#151515" stroke="#151515" stroke-width="0.3">3</text>
<text x="213.5" y="299.3" font-size="4.7" font-weight="bold" textLength="6.9" lengthAdjust="spacingAndGlyphs" fill="#151515" stroke="#151515" stroke-width="0.4">10</text>
<text x="220.7" y="297.3" font-size="3.9" font-weight="bold" fill="#151515" stroke="#151515" stroke-width="0.3">4</text>
<text x="0" y="0" font-size="6.0" font-weight="bold" text-anchor="middle" textLength="24.6" lengthAdjust="spacingAndGlyphs" fill="#151515" stroke="#151515" stroke-width="0.35" transform="translate(124.3,255.9) rotate(-90)">% of Max</text>
<text x="174.1" y="311.5" font-size="6.4" font-weight="bold" text-anchor="middle" textLength="27.8" lengthAdjust="spacingAndGlyphs" fill="#151515" stroke="#151515" stroke-width="0.3" >anti-HEL</text>
<path d="M141.7,260.2 L143.7,260.8 L145.4,260.2 L146.2,257.4 L147.1,253.9 L148.0,251.0 L148.8,248.2 L149.4,245.9 L150.0,241.3 L150.6,237.8 L151.1,236.7 L151.5,234.4 L151.1,230.3 L152.1,233.5 L152.6,239.0 L154.0,237.8 L154.9,240.1 L155.7,242.4 L156.9,247.0 L157.7,251.6 L158.4,256.2 L159.2,264.2 L160.3,274.6 L161.5,281.5 L162.6,285.6 L163.8,287.4 L165.4,288.0 L216.9,288.0" fill="none" stroke="#2a2a2a" stroke-width="1.1" stroke-dasharray="1.8,1.2"/>
<line x1="256.5" y1="226.5" x2="332.5" y2="226.5" stroke="#707070" stroke-width="1" />
<line x1="332.5" y1="226.5" x2="332.5" y2="288.5" stroke="#707070" stroke-width="1" />
<line x1="256.5" y1="226.5" x2="256.5" y2="288.5" stroke="#111" stroke-width="1" />
<line x1="256.0" y1="288.5" x2="333.0" y2="288.5" stroke="#111" stroke-width="1" />
<path d="M254.5 288.5H256.5M255.2 285.5H256.5M255.2 282.6H256.5M255.2 279.6H256.5M254.5 276.6H256.5M255.2 273.6H256.5M255.2 270.7H256.5M255.2 267.7H256.5M254.5 264.7H256.5M255.2 261.8H256.5M255.2 258.8H256.5M255.2 255.8H256.5M254.5 252.9H256.5M255.2 249.9H256.5M255.2 246.9H256.5M255.2 243.9H256.5M254.5 241.0H256.5M255.2 238.0H256.5M255.2 235.0H256.5M255.2 232.1H256.5M254.5 229.1H256.5M256.5 288.5v2M262.2 288.5v1.1M265.6 288.5v1.1M267.9 288.5v1.1M269.8 288.5v1.1M271.3 288.5v1.1M272.6 288.5v1.1M273.7 288.5v1.1M274.6 288.5v1.1M275.5 288.5v2M281.2 288.5v1.1M284.6 288.5v1.1M286.9 288.5v1.1M288.8 288.5v1.1M290.3 288.5v1.1M291.6 288.5v1.1M292.7 288.5v1.1M293.6 288.5v1.1M294.5 288.5v2M300.2 288.5v1.1M303.6 288.5v1.1M305.9 288.5v1.1M307.8 288.5v1.1M309.3 288.5v1.1M310.6 288.5v1.1M311.7 288.5v1.1M312.6 288.5v1.1M313.5 288.5v2M319.2 288.5v1.1M322.6 288.5v1.1M324.9 288.5v1.1M326.8 288.5v1.1M328.3 288.5v1.1M329.6 288.5v1.1M330.7 288.5v1.1M331.6 288.5v1.1M332.5 288.5v2" stroke="#111" stroke-width="1" fill="none"/>
<text x="251.3" y="290.4" font-size="5.0" font-weight="bold" text-anchor="end" textLength="3.0" lengthAdjust="spacingAndGlyphs" fill="#151515" stroke="#151515" stroke-width="0.35" >0</text>
<text x="251.3" y="278.52" font-size="5.0" font-weight="bold" text-anchor="end" textLength="6.4" lengthAdjust="spacingAndGlyphs" fill="#151515" stroke="#151515" stroke-width="0.35" >20</text>
<text x="251.3" y="266.64" font-size="5.0" font-weight="bold" text-anchor="end" textLength="6.4" lengthAdjust="spacingAndGlyphs" fill="#151515" stroke="#151515" stroke-width="0.35" >40</text>
<text x="251.3" y="254.76000000000002" font-size="5.0" font-weight="bold" text-anchor="end" textLength="6.4" lengthAdjust="spacingAndGlyphs" fill="#151515" stroke="#151515" stroke-width="0.35" >60</text>
<text x="251.3" y="242.88" font-size="5.0" font-weight="bold" text-anchor="end" textLength="6.4" lengthAdjust="spacingAndGlyphs" fill="#151515" stroke="#151515" stroke-width="0.35" >80</text>
<text x="251.3" y="231.0" font-size="5.0" font-weight="bold" text-anchor="end" textLength="9.4" lengthAdjust="spacingAndGlyphs" fill="#151515" stroke="#151515" stroke-width="0.35" >100</text>
<text x="253.5" y="299.3" font-size="4.7" font-weight="bold" textLength="6.9" lengthAdjust="spacingAndGlyphs" fill="#151515" stroke="#151515" stroke-width="0.4">10</text>
<text x="260.7" y="297.3" font-size="3.9" font-weight="bold" fill="#151515" stroke="#151515" stroke-width="0.3">0</text>
<text x="273.5" y="299.3" font-size="4.7" font-weight="bold" textLength="6.9" lengthAdjust="spacingAndGlyphs" fill="#151515" stroke="#151515" stroke-width="0.4">10</text>
<text x="280.7" y="297.3" font-size="3.9" font-weight="bold" fill="#151515" stroke="#151515" stroke-width="0.3">1</text>
<text x="293.2" y="299.3" font-size="4.7" font-weight="bold" textLength="6.9" lengthAdjust="spacingAndGlyphs" fill="#151515" stroke="#151515" stroke-width="0.4">10</text>
<text x="300.4" y="297.3" font-size="3.9" font-weight="bold" fill="#151515" stroke="#151515" stroke-width="0.3">2</text>
<text x="312.9" y="299.3" font-size="4.7" font-weight="bold" textLength="6.9" lengthAdjust="spacingAndGlyphs" fill="#151515" stroke="#151515" stroke-width="0.4">10</text>
<text x="320.1" y="297.3" font-size="3.9" font-weight="bold" fill="#151515" stroke="#151515" stroke-width="0.3">3</text>
<text x="328.5" y="299.3" font-size="4.7" font-weight="bold" textLength="6.9" lengthAdjust="spacingAndGlyphs" fill="#151515" stroke="#151515" stroke-width="0.4">10</text>
<text x="335.7" y="297.3" font-size="3.9" font-weight="bold" fill="#151515" stroke="#151515" stroke-width="0.3">4</text>
<text x="0" y="0" font-size="6.0" font-weight="bold" text-anchor="middle" textLength="24.6" lengthAdjust="spacingAndGlyphs" fill="#151515" stroke="#151515" stroke-width="0.35" transform="translate(239.3,255.9) rotate(-90)">% of Max</text>
<text x="289.1" y="311.5" font-size="6.4" font-weight="bold" text-anchor="middle" textLength="27.8" lengthAdjust="spacingAndGlyphs" fill="#151515" stroke="#151515" stroke-width="0.3" >anti-HEL</text>
<path d="M257.1,256.0 L258.2,258.5 L259.4,265.4 L260.5,258.5 L261.3,256.8 L262.0,251.6 L262.5,247.0 L263.2,241.3 L264.0,240.7 L264.3,244.7 L264.8,239.0 L265.1,236.1 L265.7,234.9 L266.3,239.0 L266.9,235.5 L267.4,233.2 L268.0,230.9 L268.6,229.8 L268.9,233.2 L269.2,237.8 L269.7,240.7 L270.3,244.1 L270.9,248.2 L271.5,251.6 L272.4,255.1 L272.6,255.0 L273.8,264.2 L274.9,272.3 L276.1,280.3 L277.2,284.9 L278.4,286.9 L280.7,287.7 L332.2,288.0" fill="none" stroke="#222" stroke-width="1"/>
<line x1="366.5" y1="226.5" x2="442.5" y2="226.5" stroke="#707070" stroke-width="1" />
<line x1="442.5" y1="226.5" x2="442.5" y2="288.5" stroke="#707070" stroke-width="1" />
<line x1="366.5" y1="226.5" x2="366.5" y2="288.5" stroke="#111" stroke-width="1" />
<line x1="366.0" y1="288.5" x2="443.0" y2="288.5" stroke="#111" stroke-width="1" />
<path d="M364.5 288.5H366.5M365.2 285.5H366.5M365.2 282.6H366.5M365.2 279.6H366.5M364.5 276.6H366.5M365.2 273.6H366.5M365.2 270.7H366.5M365.2 267.7H366.5M364.5 264.7H366.5M365.2 261.8H366.5M365.2 258.8H366.5M365.2 255.8H366.5M364.5 252.9H366.5M365.2 249.9H366.5M365.2 246.9H366.5M365.2 243.9H366.5M364.5 241.0H366.5M365.2 238.0H366.5M365.2 235.0H366.5M365.2 232.1H366.5M364.5 229.1H366.5M366.5 288.5v2M372.2 288.5v1.1M375.6 288.5v1.1M377.9 288.5v1.1M379.8 288.5v1.1M381.3 288.5v1.1M382.6 288.5v1.1M383.7 288.5v1.1M384.6 288.5v1.1M385.5 288.5v2M391.2 288.5v1.1M394.6 288.5v1.1M396.9 288.5v1.1M398.8 288.5v1.1M400.3 288.5v1.1M401.6 288.5v1.1M402.7 288.5v1.1M403.6 288.5v1.1M404.5 288.5v2M410.2 288.5v1.1M413.6 288.5v1.1M415.9 288.5v1.1M417.8 288.5v1.1M419.3 288.5v1.1M420.6 288.5v1.1M421.7 288.5v1.1M422.6 288.5v1.1M423.5 288.5v2M429.2 288.5v1.1M432.6 288.5v1.1M434.9 288.5v1.1M436.8 288.5v1.1M438.3 288.5v1.1M439.6 288.5v1.1M440.7 288.5v1.1M441.6 288.5v1.1M442.5 288.5v2" stroke="#111" stroke-width="1" fill="none"/>
<text x="361.3" y="290.4" font-size="5.0" font-weight="bold" text-anchor="end" textLength="3.0" lengthAdjust="spacingAndGlyphs" fill="#151515" stroke="#151515" stroke-width="0.35" >0</text>
<text x="361.3" y="278.52" font-size="5.0" font-weight="bold" text-anchor="end" textLength="6.4" lengthAdjust="spacingAndGlyphs" fill="#151515" stroke="#151515" stroke-width="0.35" >20</text>
<text x="361.3" y="266.64" font-size="5.0" font-weight="bold" text-anchor="end" textLength="6.4" lengthAdjust="spacingAndGlyphs" fill="#151515" stroke="#151515" stroke-width="0.35" >40</text>
<text x="361.3" y="254.76000000000002" font-size="5.0" font-weight="bold" text-anchor="end" textLength="6.4" lengthAdjust="spacingAndGlyphs" fill="#151515" stroke="#151515" stroke-width="0.35" >60</text>
<text x="361.3" y="242.88" font-size="5.0" font-weight="bold" text-anchor="end" textLength="6.4" lengthAdjust="spacingAndGlyphs" fill="#151515" stroke="#151515" stroke-width="0.35" >80</text>
<text x="361.3" y="231.0" font-size="5.0" font-weight="bold" text-anchor="end" textLength="9.4" lengthAdjust="spacingAndGlyphs" fill="#151515" stroke="#151515" stroke-width="0.35" >100</text>
<text x="363.5" y="299.3" font-size="4.7" font-weight="bold" textLength="6.9" lengthAdjust="spacingAndGlyphs" fill="#151515" stroke="#151515" stroke-width="0.4">10</text>
<text x="370.7" y="297.3" font-size="3.9" font-weight="bold" fill="#151515" stroke="#151515" stroke-width="0.3">0</text>
<text x="383.5" y="299.3" font-size="4.7" font-weight="bold" textLength="6.9" lengthAdjust="spacingAndGlyphs" fill="#151515" stroke="#151515" stroke-width="0.4">10</text>
<text x="390.7" y="297.3" font-size="3.9" font-weight="bold" fill="#151515" stroke="#151515" stroke-width="0.3">1</text>
<text x="403.2" y="299.3" font-size="4.7" font-weight="bold" textLength="6.9" lengthAdjust="spacingAndGlyphs" fill="#151515" stroke="#151515" stroke-width="0.4">10</text>
<text x="410.4" y="297.3" font-size="3.9" font-weight="bold" fill="#151515" stroke="#151515" stroke-width="0.3">2</text>
<text x="422.9" y="299.3" font-size="4.7" font-weight="bold" textLength="6.9" lengthAdjust="spacingAndGlyphs" fill="#151515" stroke="#151515" stroke-width="0.4">10</text>
<text x="430.1" y="297.3" font-size="3.9" font-weight="bold" fill="#151515" stroke="#151515" stroke-width="0.3">3</text>
<text x="438.5" y="299.3" font-size="4.7" font-weight="bold" textLength="6.9" lengthAdjust="spacingAndGlyphs" fill="#151515" stroke="#151515" stroke-width="0.4">10</text>
<text x="445.7" y="297.3" font-size="3.9" font-weight="bold" fill="#151515" stroke="#151515" stroke-width="0.3">4</text>
<text x="0" y="0" font-size="6.0" font-weight="bold" text-anchor="middle" textLength="24.6" lengthAdjust="spacingAndGlyphs" fill="#151515" stroke="#151515" stroke-width="0.35" transform="translate(349.3,255.9) rotate(-90)">% of Max</text>
<text x="399.1" y="311.5" font-size="6.4" font-weight="bold" text-anchor="middle" textLength="27.8" lengthAdjust="spacingAndGlyphs" fill="#151515" stroke="#151515" stroke-width="0.3" >anti-HEL</text>
<path d="M366.7,260.2 L368.7,260.8 L370.4,260.2 L371.2,257.4 L372.1,253.9 L373.0,251.0 L373.8,248.2 L374.4,245.9 L375.0,241.3 L375.6,237.8 L376.1,236.7 L376.5,234.4 L376.1,230.3 L377.1,233.5 L377.6,239.0 L379.0,237.8 L379.9,240.1 L380.7,242.4 L381.9,247.0 L382.7,251.6 L383.4,256.2 L384.2,264.2 L385.3,274.6 L386.5,281.5 L387.6,285.6 L388.8,287.4 L390.4,288.0 L441.9,288.0" fill="none" stroke="#2a2a2a" stroke-width="1.1" stroke-dasharray="1.8,1.2"/>
<path d="M367.1,256.0 L368.2,258.5 L369.4,265.4 L370.5,258.5 L371.3,256.8 L372.0,251.6 L372.5,247.0 L373.2,241.3 L374.0,240.7 L374.3,244.7 L374.8,239.0 L375.1,236.1 L375.7,234.9 L376.3,239.0 L376.9,235.5 L377.4,233.2 L378.0,230.9 L378.6,229.8 L378.9,233.2 L379.2,237.8 L379.7,240.7 L380.3,244.1 L380.9,248.2 L381.5,251.6 L382.4,255.1 L382.6,255.0 L383.8,264.2 L384.9,272.3 L386.1,280.3 L387.2,284.9 L388.4,286.9 L390.7,287.7 L442.2,288.0" fill="none" stroke="#222" stroke-width="1"/>
<text x="164" y="17.9" font-size="6.4" font-weight="bold" text-anchor="start" textLength="25.4" lengthAdjust="spacingAndGlyphs" fill="#151515" stroke="#151515" stroke-width="0.3" >B6&#160;&#160;RBC</text>
<text x="275.2" y="17.8" font-size="6.0" font-weight="bold" text-anchor="start" textLength="33.6" lengthAdjust="spacingAndGlyphs" fill="#151515" stroke="#151515" stroke-width="0.3" >mHEL RBC</text>
<line x1="369.4" y1="4.5" x2="392.3" y2="4.5" stroke="#151515" stroke-width="1" />
<line x1="369.4" y1="15.5" x2="392.3" y2="15.5" stroke="#151515" stroke-width="1" stroke-dasharray="3,3.3"/>
<text x="398.8" y="6.6" font-size="5.4" text-anchor="start" textLength="32.7" lengthAdjust="spacingAndGlyphs" fill="#151515" stroke="#151515" stroke-width="0.3" >mHEL RBC</text>
<text x="398.2" y="17.4" font-size="5.6" text-anchor="start" textLength="24.5" lengthAdjust="spacingAndGlyphs" fill="#151515" stroke="#151515" stroke-width="0.25" >B6&#160;&#160;RBC</text>
<text x="469.2" y="9.4" font-size="9.7" font-weight="bold" text-anchor="start" textLength="49.6" lengthAdjust="spacingAndGlyphs" fill="#151515" stroke="#151515" stroke-width="0.35" >Recipients</text>
<line x1="469.2" y1="11.5" x2="518.5" y2="11.5" stroke="#151515" stroke-width="1.1" />
<text x="471.8" y="52.7" font-size="10.0" font-weight="bold" text-anchor="start" textLength="40" lengthAdjust="spacingAndGlyphs" fill="#151515" stroke="#151515" stroke-width="0.35" >C57BL/6</text>
<text x="471.8" y="66.6" font-size="10.0" font-weight="bold" text-anchor="start" textLength="40.5" lengthAdjust="spacingAndGlyphs" fill="#151515" stroke="#151515" stroke-width="0.35" >HEL/CFA</text>
<text x="471.8" y="150.2" font-size="10.0" font-weight="bold" text-anchor="start" textLength="34.2" lengthAdjust="spacingAndGlyphs" fill="#151515" stroke="#151515" stroke-width="0.35" >BALB/c</text>
<text x="471.8" y="164.2" font-size="10.0" font-weight="bold" text-anchor="start" textLength="40.5" lengthAdjust="spacingAndGlyphs" fill="#151515" stroke="#151515" stroke-width="0.35" >HEL/CFA</text>
<text x="471.8" y="248.4" font-size="10.0" font-weight="bold" text-anchor="start" textLength="19.6" lengthAdjust="spacingAndGlyphs" fill="#151515" stroke="#151515" stroke-width="0.35" >C3H</text>
<text x="471.8" y="262.8" font-size="10.0" font-weight="bold" text-anchor="start" textLength="40.5" lengthAdjust="spacingAndGlyphs" fill="#151515" stroke="#151515" stroke-width="0.35" >HEL/CFA</text>
</g>
</svg>
</body></html>
